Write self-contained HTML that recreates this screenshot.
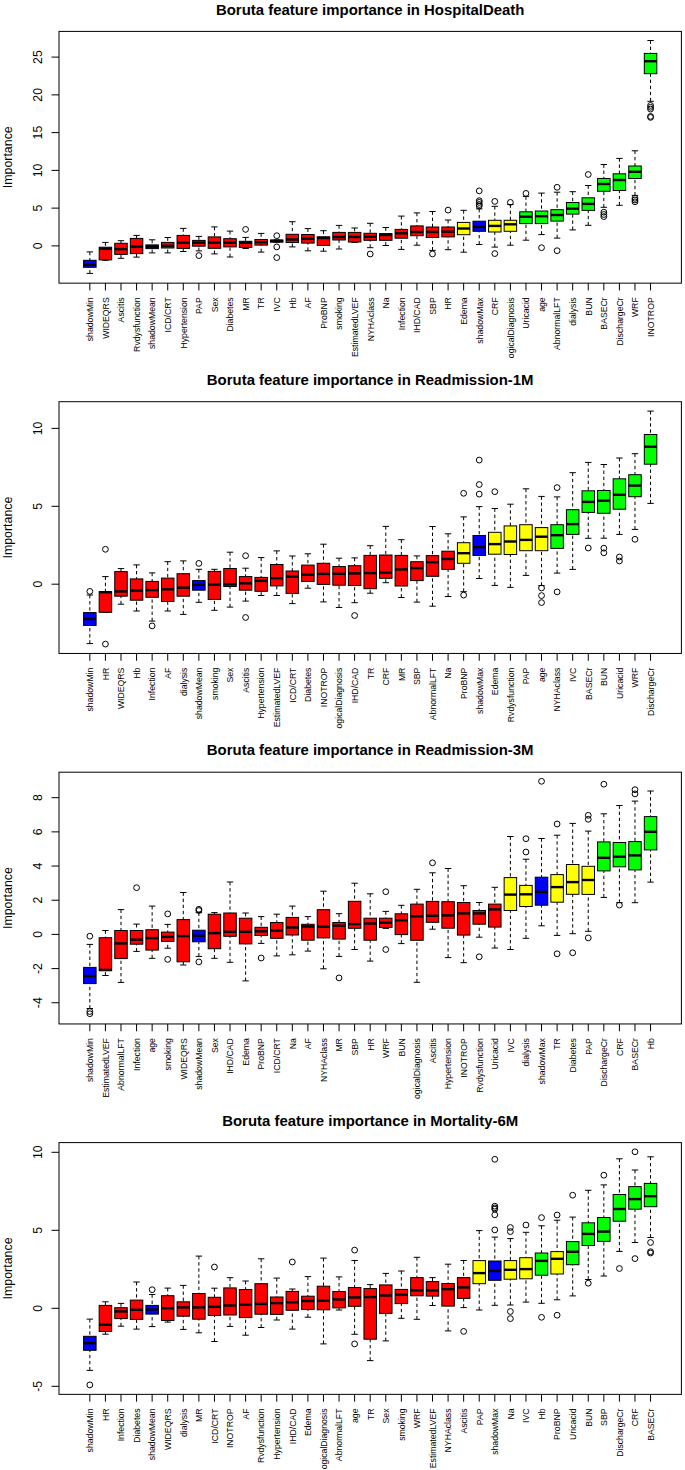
<!DOCTYPE html><html><head><meta charset="utf-8"><style>html,body{margin:0;padding:0;background:#fff;width:685px;height:1470px;overflow:hidden}svg{display:block}text{font-family:"Liberation Sans",sans-serif;fill:#000}</style></head><body>
<svg width="685" height="1470" viewBox="0 0 685 1470">
<rect width="685" height="1470" fill="#fff"/>
<g>
<text x="370.2" y="14.6" text-anchor="middle" font-weight="bold" font-size="14.93">Boruta feature importance in HospitalDeath</text>
<text transform="translate(11.6,157.27) rotate(-90)" text-anchor="middle" font-size="12.4">Importance</text>
<line x1="51.5" x2="59" y1="245.9" y2="245.9" stroke="#000" stroke-width="1"/>
<text transform="translate(41.6,245.9) rotate(-90)" text-anchor="middle" font-size="12.2">0</text>
<line x1="51.5" x2="59" y1="208.14" y2="208.14" stroke="#000" stroke-width="1"/>
<text transform="translate(41.6,208.14) rotate(-90)" text-anchor="middle" font-size="12.2">5</text>
<line x1="51.5" x2="59" y1="170.38" y2="170.38" stroke="#000" stroke-width="1"/>
<text transform="translate(41.6,170.38) rotate(-90)" text-anchor="middle" font-size="12.2">10</text>
<line x1="51.5" x2="59" y1="132.62" y2="132.62" stroke="#000" stroke-width="1"/>
<text transform="translate(41.6,132.62) rotate(-90)" text-anchor="middle" font-size="12.2">15</text>
<line x1="51.5" x2="59" y1="94.86" y2="94.86" stroke="#000" stroke-width="1"/>
<text transform="translate(41.6,94.86) rotate(-90)" text-anchor="middle" font-size="12.2">20</text>
<line x1="51.5" x2="59" y1="57.1" y2="57.1" stroke="#000" stroke-width="1"/>
<text transform="translate(41.6,57.1) rotate(-90)" text-anchor="middle" font-size="12.2">25</text>
<line x1="89.84" x2="89.84" y1="251.9" y2="260.3" stroke="#000" stroke-dasharray="3.4,2.7"/>
<line x1="89.84" x2="89.84" y1="273.4" y2="267.3" stroke="#000" stroke-dasharray="3.4,2.7"/>
<line x1="86.64" x2="93.04" y1="251.9" y2="251.9" stroke="#000"/>
<line x1="86.64" x2="93.04" y1="273.4" y2="273.4" stroke="#000"/>
<rect x="83.59" y="260.3" width="12.5" height="7" fill="#0000ff" stroke="#000" stroke-width="1"/>
<line x1="83.59" x2="96.09" y1="265" y2="265" stroke="#000" stroke-width="2.4"/>
<line x1="89.84" x2="89.84" y1="283.15" y2="290.45" stroke="#000"/>
<text transform="translate(93.14,297.3) rotate(-90)" text-anchor="end" font-size="8.7">shadowMin</text>
<line x1="105.42" x2="105.42" y1="242.4" y2="247.2" stroke="#000" stroke-dasharray="3.4,2.7"/>
<line x1="102.22" x2="108.62" y1="242.4" y2="242.4" stroke="#000"/>
<line x1="102.22" x2="108.62" y1="260.3" y2="260.3" stroke="#000"/>
<rect x="99.17" y="247.2" width="12.5" height="12.7" fill="#ff0000" stroke="#000" stroke-width="1"/>
<line x1="99.17" x2="111.67" y1="248.8" y2="248.8" stroke="#000" stroke-width="2.4"/>
<line x1="105.42" x2="105.42" y1="283.15" y2="290.45" stroke="#000"/>
<text transform="translate(108.72,297.3) rotate(-90)" text-anchor="end" font-size="8.7">WIDEQRS</text>
<line x1="120.99" x2="120.99" y1="240.7" y2="243.3" stroke="#000" stroke-dasharray="3.4,2.7"/>
<line x1="120.99" x2="120.99" y1="258.3" y2="254.4" stroke="#000" stroke-dasharray="3.4,2.7"/>
<line x1="117.79" x2="124.19" y1="240.7" y2="240.7" stroke="#000"/>
<line x1="117.79" x2="124.19" y1="258.3" y2="258.3" stroke="#000"/>
<rect x="114.74" y="243.3" width="12.5" height="11.1" fill="#ff0000" stroke="#000" stroke-width="1"/>
<line x1="114.74" x2="127.24" y1="249.1" y2="249.1" stroke="#000" stroke-width="2.4"/>
<line x1="120.99" x2="120.99" y1="283.15" y2="290.45" stroke="#000"/>
<text transform="translate(124.29,297.3) rotate(-90)" text-anchor="end" font-size="8.7">Ascitis</text>
<line x1="136.57" x2="136.57" y1="235.4" y2="238.4" stroke="#000" stroke-dasharray="3.4,2.7"/>
<line x1="136.57" x2="136.57" y1="257.1" y2="253.6" stroke="#000" stroke-dasharray="3.4,2.7"/>
<line x1="133.37" x2="139.77" y1="235.4" y2="235.4" stroke="#000"/>
<line x1="133.37" x2="139.77" y1="257.1" y2="257.1" stroke="#000"/>
<rect x="130.32" y="238.4" width="12.5" height="15.2" fill="#ff0000" stroke="#000" stroke-width="1"/>
<line x1="130.32" x2="142.82" y1="246.6" y2="246.6" stroke="#000" stroke-width="2.4"/>
<line x1="136.57" x2="136.57" y1="283.15" y2="290.45" stroke="#000"/>
<text transform="translate(139.87,297.3) rotate(-90)" text-anchor="end" font-size="8.7">Rvdysfunction</text>
<line x1="152.14" x2="152.14" y1="239.8" y2="244.9" stroke="#000" stroke-dasharray="3.4,2.7"/>
<line x1="152.14" x2="152.14" y1="252.9" y2="248.6" stroke="#000" stroke-dasharray="3.4,2.7"/>
<line x1="148.94" x2="155.34" y1="239.8" y2="239.8" stroke="#000"/>
<line x1="148.94" x2="155.34" y1="252.9" y2="252.9" stroke="#000"/>
<rect x="145.89" y="244.9" width="12.5" height="3.7" fill="#0000ff" stroke="#000" stroke-width="1"/>
<line x1="145.89" x2="158.39" y1="246.6" y2="246.6" stroke="#000" stroke-width="2.4"/>
<line x1="152.14" x2="152.14" y1="283.15" y2="290.45" stroke="#000"/>
<text transform="translate(155.44,297.3) rotate(-90)" text-anchor="end" font-size="8.7">shadowMean</text>
<line x1="167.72" x2="167.72" y1="237.5" y2="242.4" stroke="#000" stroke-dasharray="3.4,2.7"/>
<line x1="167.72" x2="167.72" y1="252.9" y2="248" stroke="#000" stroke-dasharray="3.4,2.7"/>
<line x1="164.52" x2="170.92" y1="237.5" y2="237.5" stroke="#000"/>
<line x1="164.52" x2="170.92" y1="252.9" y2="252.9" stroke="#000"/>
<rect x="161.47" y="242.4" width="12.5" height="5.6" fill="#ff0000" stroke="#000" stroke-width="1"/>
<line x1="161.47" x2="173.97" y1="245.8" y2="245.8" stroke="#000" stroke-width="2.4"/>
<line x1="167.72" x2="167.72" y1="283.15" y2="290.45" stroke="#000"/>
<text transform="translate(171.02,297.3) rotate(-90)" text-anchor="end" font-size="8.7">ICD/CRT</text>
<line x1="183.29" x2="183.29" y1="228.4" y2="235.4" stroke="#000" stroke-dasharray="3.4,2.7"/>
<line x1="183.29" x2="183.29" y1="251.5" y2="248.4" stroke="#000" stroke-dasharray="3.4,2.7"/>
<line x1="180.09" x2="186.49" y1="228.4" y2="228.4" stroke="#000"/>
<line x1="180.09" x2="186.49" y1="251.5" y2="251.5" stroke="#000"/>
<rect x="177.04" y="235.4" width="12.5" height="13" fill="#ff0000" stroke="#000" stroke-width="1"/>
<line x1="177.04" x2="189.54" y1="242.8" y2="242.8" stroke="#000" stroke-width="2.4"/>
<line x1="183.29" x2="183.29" y1="283.15" y2="290.45" stroke="#000"/>
<text transform="translate(186.59,297.3) rotate(-90)" text-anchor="end" font-size="8.7">Hypertension</text>
<line x1="198.87" x2="198.87" y1="236.4" y2="240.4" stroke="#000" stroke-dasharray="3.4,2.7"/>
<line x1="198.87" x2="198.87" y1="250.9" y2="246.2" stroke="#000" stroke-dasharray="3.4,2.7"/>
<line x1="195.67" x2="202.07" y1="236.4" y2="236.4" stroke="#000"/>
<line x1="195.67" x2="202.07" y1="250.9" y2="250.9" stroke="#000"/>
<rect x="192.62" y="240.4" width="12.5" height="5.8" fill="#ff0000" stroke="#000" stroke-width="1"/>
<line x1="192.62" x2="205.12" y1="242.7" y2="242.7" stroke="#000" stroke-width="2.4"/>
<circle cx="198.87" cy="255.6" r="2.9" fill="none" stroke="#000" stroke-width="1"/>
<line x1="198.87" x2="198.87" y1="283.15" y2="290.45" stroke="#000"/>
<text transform="translate(202.17,297.3) rotate(-90)" text-anchor="end" font-size="8.7">PAP</text>
<line x1="214.44" x2="214.44" y1="226.9" y2="236.9" stroke="#000" stroke-dasharray="3.4,2.7"/>
<line x1="214.44" x2="214.44" y1="253.9" y2="248.3" stroke="#000" stroke-dasharray="3.4,2.7"/>
<line x1="211.24" x2="217.64" y1="226.9" y2="226.9" stroke="#000"/>
<line x1="211.24" x2="217.64" y1="253.9" y2="253.9" stroke="#000"/>
<rect x="208.19" y="236.9" width="12.5" height="11.4" fill="#ff0000" stroke="#000" stroke-width="1"/>
<line x1="208.19" x2="220.69" y1="242.7" y2="242.7" stroke="#000" stroke-width="2.4"/>
<line x1="214.44" x2="214.44" y1="283.15" y2="290.45" stroke="#000"/>
<text transform="translate(217.74,297.3) rotate(-90)" text-anchor="end" font-size="8.7">Sex</text>
<line x1="230.02" x2="230.02" y1="231.1" y2="238.7" stroke="#000" stroke-dasharray="3.4,2.7"/>
<line x1="230.02" x2="230.02" y1="257" y2="246.9" stroke="#000" stroke-dasharray="3.4,2.7"/>
<line x1="226.82" x2="233.22" y1="231.1" y2="231.1" stroke="#000"/>
<line x1="226.82" x2="233.22" y1="257" y2="257" stroke="#000"/>
<rect x="223.77" y="238.7" width="12.5" height="8.2" fill="#ff0000" stroke="#000" stroke-width="1"/>
<line x1="223.77" x2="236.27" y1="242.7" y2="242.7" stroke="#000" stroke-width="2.4"/>
<line x1="230.02" x2="230.02" y1="283.15" y2="290.45" stroke="#000"/>
<text transform="translate(233.32,297.3) rotate(-90)" text-anchor="end" font-size="8.7">Diabetes</text>
<line x1="245.6" x2="245.6" y1="237.4" y2="241.3" stroke="#000" stroke-dasharray="3.4,2.7"/>
<line x1="245.6" x2="245.6" y1="248.5" y2="247.4" stroke="#000" stroke-dasharray="3.4,2.7"/>
<line x1="242.4" x2="248.8" y1="237.4" y2="237.4" stroke="#000"/>
<line x1="242.4" x2="248.8" y1="248.5" y2="248.5" stroke="#000"/>
<rect x="239.35" y="241.3" width="12.5" height="6.1" fill="#ff0000" stroke="#000" stroke-width="1"/>
<line x1="239.35" x2="251.85" y1="242.7" y2="242.7" stroke="#000" stroke-width="2.4"/>
<circle cx="245.6" cy="229.4" r="2.9" fill="none" stroke="#000" stroke-width="1"/>
<line x1="245.6" x2="245.6" y1="283.15" y2="290.45" stroke="#000"/>
<text transform="translate(248.9,297.3) rotate(-90)" text-anchor="end" font-size="8.7">MR</text>
<line x1="261.17" x2="261.17" y1="233.4" y2="239.5" stroke="#000" stroke-dasharray="3.4,2.7"/>
<line x1="261.17" x2="261.17" y1="252.1" y2="245.1" stroke="#000" stroke-dasharray="3.4,2.7"/>
<line x1="257.97" x2="264.37" y1="233.4" y2="233.4" stroke="#000"/>
<line x1="257.97" x2="264.37" y1="252.1" y2="252.1" stroke="#000"/>
<rect x="254.92" y="239.5" width="12.5" height="5.6" fill="#ff0000" stroke="#000" stroke-width="1"/>
<line x1="254.92" x2="267.42" y1="242.2" y2="242.2" stroke="#000" stroke-width="2.4"/>
<line x1="261.17" x2="261.17" y1="283.15" y2="290.45" stroke="#000"/>
<text transform="translate(264.47,297.3) rotate(-90)" text-anchor="end" font-size="8.7">TR</text>
<line x1="273.55" x2="279.95" y1="240" y2="240" stroke="#000"/>
<line x1="273.55" x2="279.95" y1="242.2" y2="242.2" stroke="#000"/>
<rect x="270.5" y="240" width="12.5" height="2.2" fill="#ff0000" stroke="#000" stroke-width="1"/>
<line x1="270.5" x2="283" y1="240.9" y2="240.9" stroke="#000" stroke-width="2.4"/>
<circle cx="276.75" cy="235.7" r="2.9" fill="none" stroke="#000" stroke-width="1"/>
<circle cx="276.75" cy="246.9" r="2.9" fill="none" stroke="#000" stroke-width="1"/>
<circle cx="276.75" cy="257.6" r="2.9" fill="none" stroke="#000" stroke-width="1"/>
<line x1="276.75" x2="276.75" y1="283.15" y2="290.45" stroke="#000"/>
<text transform="translate(280.05,297.3) rotate(-90)" text-anchor="end" font-size="8.7">IVC</text>
<line x1="292.32" x2="292.32" y1="221.7" y2="234.3" stroke="#000" stroke-dasharray="3.4,2.7"/>
<line x1="292.32" x2="292.32" y1="246.9" y2="242.5" stroke="#000" stroke-dasharray="3.4,2.7"/>
<line x1="289.12" x2="295.52" y1="221.7" y2="221.7" stroke="#000"/>
<line x1="289.12" x2="295.52" y1="246.9" y2="246.9" stroke="#000"/>
<rect x="286.07" y="234.3" width="12.5" height="8.2" fill="#ff0000" stroke="#000" stroke-width="1"/>
<line x1="286.07" x2="298.57" y1="239.5" y2="239.5" stroke="#000" stroke-width="2.4"/>
<line x1="292.32" x2="292.32" y1="283.15" y2="290.45" stroke="#000"/>
<text transform="translate(295.62,297.3) rotate(-90)" text-anchor="end" font-size="8.7">Hb</text>
<line x1="307.9" x2="307.9" y1="228.6" y2="234.5" stroke="#000" stroke-dasharray="3.4,2.7"/>
<line x1="307.9" x2="307.9" y1="250.8" y2="243.1" stroke="#000" stroke-dasharray="3.4,2.7"/>
<line x1="304.7" x2="311.1" y1="228.6" y2="228.6" stroke="#000"/>
<line x1="304.7" x2="311.1" y1="250.8" y2="250.8" stroke="#000"/>
<rect x="301.65" y="234.5" width="12.5" height="8.6" fill="#ff0000" stroke="#000" stroke-width="1"/>
<line x1="301.65" x2="314.15" y1="238.9" y2="238.9" stroke="#000" stroke-width="2.4"/>
<line x1="307.9" x2="307.9" y1="283.15" y2="290.45" stroke="#000"/>
<text transform="translate(311.2,297.3) rotate(-90)" text-anchor="end" font-size="8.7">AF</text>
<line x1="323.47" x2="323.47" y1="230.7" y2="236.8" stroke="#000" stroke-dasharray="3.4,2.7"/>
<line x1="323.47" x2="323.47" y1="251.2" y2="245.5" stroke="#000" stroke-dasharray="3.4,2.7"/>
<line x1="320.27" x2="326.67" y1="230.7" y2="230.7" stroke="#000"/>
<line x1="320.27" x2="326.67" y1="251.2" y2="251.2" stroke="#000"/>
<rect x="317.22" y="236.8" width="12.5" height="8.7" fill="#ff0000" stroke="#000" stroke-width="1"/>
<line x1="317.22" x2="329.72" y1="238" y2="238" stroke="#000" stroke-width="2.4"/>
<line x1="323.47" x2="323.47" y1="283.15" y2="290.45" stroke="#000"/>
<text transform="translate(326.77,297.3) rotate(-90)" text-anchor="end" font-size="8.7">ProBNP</text>
<line x1="339.05" x2="339.05" y1="225.4" y2="232.4" stroke="#000" stroke-dasharray="3.4,2.7"/>
<line x1="339.05" x2="339.05" y1="249" y2="240" stroke="#000" stroke-dasharray="3.4,2.7"/>
<line x1="335.85" x2="342.25" y1="225.4" y2="225.4" stroke="#000"/>
<line x1="335.85" x2="342.25" y1="249" y2="249" stroke="#000"/>
<rect x="332.8" y="232.4" width="12.5" height="7.6" fill="#ff0000" stroke="#000" stroke-width="1"/>
<line x1="332.8" x2="345.3" y1="237.1" y2="237.1" stroke="#000" stroke-width="2.4"/>
<line x1="339.05" x2="339.05" y1="283.15" y2="290.45" stroke="#000"/>
<text transform="translate(342.35,297.3) rotate(-90)" text-anchor="end" font-size="8.7">smoking</text>
<line x1="354.62" x2="354.62" y1="228" y2="232.4" stroke="#000" stroke-dasharray="3.4,2.7"/>
<line x1="351.42" x2="357.82" y1="228" y2="228" stroke="#000"/>
<line x1="351.42" x2="357.82" y1="242.5" y2="242.5" stroke="#000"/>
<rect x="348.37" y="232.4" width="12.5" height="9.6" fill="#ff0000" stroke="#000" stroke-width="1"/>
<line x1="348.37" x2="360.87" y1="237" y2="237" stroke="#000" stroke-width="2.4"/>
<line x1="354.62" x2="354.62" y1="283.15" y2="290.45" stroke="#000"/>
<text transform="translate(357.92,297.3) rotate(-90)" text-anchor="end" font-size="8.7">EstimatedLVEF</text>
<line x1="370.2" x2="370.2" y1="223.3" y2="233.3" stroke="#000" stroke-dasharray="3.4,2.7"/>
<line x1="370.2" x2="370.2" y1="247.7" y2="240.3" stroke="#000" stroke-dasharray="3.4,2.7"/>
<line x1="367" x2="373.4" y1="223.3" y2="223.3" stroke="#000"/>
<line x1="367" x2="373.4" y1="247.7" y2="247.7" stroke="#000"/>
<rect x="363.95" y="233.3" width="12.5" height="7" fill="#ff0000" stroke="#000" stroke-width="1"/>
<line x1="363.95" x2="376.45" y1="236.8" y2="236.8" stroke="#000" stroke-width="2.4"/>
<circle cx="370.2" cy="254" r="2.9" fill="none" stroke="#000" stroke-width="1"/>
<line x1="370.2" x2="370.2" y1="283.15" y2="290.45" stroke="#000"/>
<text transform="translate(373.5,297.3) rotate(-90)" text-anchor="end" font-size="8.7">NYHAclass</text>
<line x1="385.78" x2="385.78" y1="227.5" y2="233.6" stroke="#000" stroke-dasharray="3.4,2.7"/>
<line x1="385.78" x2="385.78" y1="245.5" y2="240.3" stroke="#000" stroke-dasharray="3.4,2.7"/>
<line x1="382.58" x2="388.98" y1="227.5" y2="227.5" stroke="#000"/>
<line x1="382.58" x2="388.98" y1="245.5" y2="245.5" stroke="#000"/>
<rect x="379.53" y="233.6" width="12.5" height="6.7" fill="#ff0000" stroke="#000" stroke-width="1"/>
<line x1="379.53" x2="392.03" y1="235" y2="235" stroke="#000" stroke-width="2.4"/>
<line x1="385.78" x2="385.78" y1="283.15" y2="290.45" stroke="#000"/>
<text transform="translate(389.08,297.3) rotate(-90)" text-anchor="end" font-size="8.7">Na</text>
<line x1="401.35" x2="401.35" y1="216.1" y2="229.4" stroke="#000" stroke-dasharray="3.4,2.7"/>
<line x1="401.35" x2="401.35" y1="249.4" y2="238.2" stroke="#000" stroke-dasharray="3.4,2.7"/>
<line x1="398.15" x2="404.55" y1="216.1" y2="216.1" stroke="#000"/>
<line x1="398.15" x2="404.55" y1="249.4" y2="249.4" stroke="#000"/>
<rect x="395.1" y="229.4" width="12.5" height="8.8" fill="#ff0000" stroke="#000" stroke-width="1"/>
<line x1="395.1" x2="407.6" y1="233.3" y2="233.3" stroke="#000" stroke-width="2.4"/>
<line x1="401.35" x2="401.35" y1="283.15" y2="290.45" stroke="#000"/>
<text transform="translate(404.65,297.3) rotate(-90)" text-anchor="end" font-size="8.7">Infection</text>
<line x1="416.93" x2="416.93" y1="212.9" y2="225.9" stroke="#000" stroke-dasharray="3.4,2.7"/>
<line x1="416.93" x2="416.93" y1="245.2" y2="235.7" stroke="#000" stroke-dasharray="3.4,2.7"/>
<line x1="413.73" x2="420.13" y1="212.9" y2="212.9" stroke="#000"/>
<line x1="413.73" x2="420.13" y1="245.2" y2="245.2" stroke="#000"/>
<rect x="410.68" y="225.9" width="12.5" height="9.8" fill="#ff0000" stroke="#000" stroke-width="1"/>
<line x1="410.68" x2="423.18" y1="232" y2="232" stroke="#000" stroke-width="2.4"/>
<line x1="416.93" x2="416.93" y1="283.15" y2="290.45" stroke="#000"/>
<text transform="translate(420.23,297.3) rotate(-90)" text-anchor="end" font-size="8.7">IHD/CAD</text>
<line x1="432.5" x2="432.5" y1="211.5" y2="227" stroke="#000" stroke-dasharray="3.4,2.7"/>
<line x1="432.5" x2="432.5" y1="250.4" y2="237.5" stroke="#000" stroke-dasharray="3.4,2.7"/>
<line x1="429.3" x2="435.7" y1="211.5" y2="211.5" stroke="#000"/>
<line x1="429.3" x2="435.7" y1="250.4" y2="250.4" stroke="#000"/>
<rect x="426.25" y="227" width="12.5" height="10.5" fill="#ff0000" stroke="#000" stroke-width="1"/>
<line x1="426.25" x2="438.75" y1="232" y2="232" stroke="#000" stroke-width="2.4"/>
<circle cx="432.5" cy="253.9" r="2.9" fill="none" stroke="#000" stroke-width="1"/>
<line x1="432.5" x2="432.5" y1="283.15" y2="290.45" stroke="#000"/>
<text transform="translate(435.8,297.3) rotate(-90)" text-anchor="end" font-size="8.7">SBP</text>
<line x1="448.08" x2="448.08" y1="220" y2="227" stroke="#000" stroke-dasharray="3.4,2.7"/>
<line x1="448.08" x2="448.08" y1="249.7" y2="236.9" stroke="#000" stroke-dasharray="3.4,2.7"/>
<line x1="444.88" x2="451.28" y1="220" y2="220" stroke="#000"/>
<line x1="444.88" x2="451.28" y1="249.7" y2="249.7" stroke="#000"/>
<rect x="441.83" y="227" width="12.5" height="9.9" fill="#ff0000" stroke="#000" stroke-width="1"/>
<line x1="441.83" x2="454.33" y1="231.7" y2="231.7" stroke="#000" stroke-width="2.4"/>
<circle cx="448.08" cy="210.1" r="2.9" fill="none" stroke="#000" stroke-width="1"/>
<line x1="448.08" x2="448.08" y1="283.15" y2="290.45" stroke="#000"/>
<text transform="translate(451.38,297.3) rotate(-90)" text-anchor="end" font-size="8.7">HR</text>
<line x1="463.65" x2="463.65" y1="210.3" y2="222.4" stroke="#000" stroke-dasharray="3.4,2.7"/>
<line x1="463.65" x2="463.65" y1="252.2" y2="234.7" stroke="#000" stroke-dasharray="3.4,2.7"/>
<line x1="460.45" x2="466.85" y1="210.3" y2="210.3" stroke="#000"/>
<line x1="460.45" x2="466.85" y1="252.2" y2="252.2" stroke="#000"/>
<rect x="457.4" y="222.4" width="12.5" height="12.3" fill="#ffff00" stroke="#000" stroke-width="1"/>
<line x1="457.4" x2="469.9" y1="228.5" y2="228.5" stroke="#000" stroke-width="2.4"/>
<line x1="463.65" x2="463.65" y1="283.15" y2="290.45" stroke="#000"/>
<text transform="translate(466.95,297.3) rotate(-90)" text-anchor="end" font-size="8.7">Edema</text>
<line x1="479.23" x2="479.23" y1="208.9" y2="221.2" stroke="#000" stroke-dasharray="3.4,2.7"/>
<line x1="479.23" x2="479.23" y1="244.5" y2="231.3" stroke="#000" stroke-dasharray="3.4,2.7"/>
<line x1="476.03" x2="482.43" y1="208.9" y2="208.9" stroke="#000"/>
<line x1="476.03" x2="482.43" y1="244.5" y2="244.5" stroke="#000"/>
<rect x="472.98" y="221.2" width="12.5" height="10.1" fill="#0000ff" stroke="#000" stroke-width="1"/>
<line x1="472.98" x2="485.48" y1="227" y2="227" stroke="#000" stroke-width="2.4"/>
<circle cx="479.23" cy="190.9" r="2.9" fill="none" stroke="#000" stroke-width="1"/>
<circle cx="479.23" cy="200.7" r="2.9" fill="none" stroke="#000" stroke-width="1"/>
<circle cx="479.23" cy="202.4" r="2.9" fill="none" stroke="#000" stroke-width="1"/>
<circle cx="479.23" cy="204.5" r="2.9" fill="none" stroke="#000" stroke-width="1"/>
<circle cx="479.23" cy="206" r="2.9" fill="none" stroke="#000" stroke-width="1"/>
<line x1="479.23" x2="479.23" y1="283.15" y2="290.45" stroke="#000"/>
<text transform="translate(482.53,297.3) rotate(-90)" text-anchor="end" font-size="8.7">shadowMax</text>
<line x1="494.8" x2="494.8" y1="206.3" y2="220.3" stroke="#000" stroke-dasharray="3.4,2.7"/>
<line x1="494.8" x2="494.8" y1="247.1" y2="232" stroke="#000" stroke-dasharray="3.4,2.7"/>
<line x1="491.6" x2="498" y1="206.3" y2="206.3" stroke="#000"/>
<line x1="491.6" x2="498" y1="247.1" y2="247.1" stroke="#000"/>
<rect x="488.55" y="220.3" width="12.5" height="11.7" fill="#ffff00" stroke="#000" stroke-width="1"/>
<line x1="488.55" x2="501.05" y1="225.9" y2="225.9" stroke="#000" stroke-width="2.4"/>
<circle cx="494.8" cy="201.4" r="2.9" fill="none" stroke="#000" stroke-width="1"/>
<circle cx="494.8" cy="253.6" r="2.9" fill="none" stroke="#000" stroke-width="1"/>
<line x1="494.8" x2="494.8" y1="283.15" y2="290.45" stroke="#000"/>
<text transform="translate(498.1,297.3) rotate(-90)" text-anchor="end" font-size="8.7">CRF</text>
<line x1="510.38" x2="510.38" y1="204.5" y2="220.3" stroke="#000" stroke-dasharray="3.4,2.7"/>
<line x1="510.38" x2="510.38" y1="245.2" y2="231.3" stroke="#000" stroke-dasharray="3.4,2.7"/>
<line x1="507.18" x2="513.58" y1="204.5" y2="204.5" stroke="#000"/>
<line x1="507.18" x2="513.58" y1="245.2" y2="245.2" stroke="#000"/>
<rect x="504.13" y="220.3" width="12.5" height="11" fill="#ffff00" stroke="#000" stroke-width="1"/>
<line x1="504.13" x2="516.63" y1="224.3" y2="224.3" stroke="#000" stroke-width="2.4"/>
<circle cx="510.38" cy="202.4" r="2.9" fill="none" stroke="#000" stroke-width="1"/>
<line x1="510.38" x2="510.38" y1="283.15" y2="290.45" stroke="#000"/>
<text transform="translate(513.68,297.3) rotate(-90)" text-anchor="end" font-size="8.7">ogicalDiagnosis</text>
<line x1="525.96" x2="525.96" y1="196.4" y2="211.8" stroke="#000" stroke-dasharray="3.4,2.7"/>
<line x1="525.96" x2="525.96" y1="240.2" y2="223.6" stroke="#000" stroke-dasharray="3.4,2.7"/>
<line x1="522.76" x2="529.16" y1="196.4" y2="196.4" stroke="#000"/>
<line x1="522.76" x2="529.16" y1="240.2" y2="240.2" stroke="#000"/>
<rect x="519.71" y="211.8" width="12.5" height="11.8" fill="#00ff00" stroke="#000" stroke-width="1"/>
<line x1="519.71" x2="532.21" y1="216.7" y2="216.7" stroke="#000" stroke-width="2.4"/>
<circle cx="525.96" cy="193.4" r="2.9" fill="none" stroke="#000" stroke-width="1"/>
<line x1="525.96" x2="525.96" y1="283.15" y2="290.45" stroke="#000"/>
<text transform="translate(529.26,297.3) rotate(-90)" text-anchor="end" font-size="8.7">Uricacid</text>
<line x1="541.53" x2="541.53" y1="193.1" y2="211" stroke="#000" stroke-dasharray="3.4,2.7"/>
<line x1="541.53" x2="541.53" y1="234.6" y2="223.6" stroke="#000" stroke-dasharray="3.4,2.7"/>
<line x1="538.33" x2="544.73" y1="193.1" y2="193.1" stroke="#000"/>
<line x1="538.33" x2="544.73" y1="234.6" y2="234.6" stroke="#000"/>
<rect x="535.28" y="211" width="12.5" height="12.6" fill="#00ff00" stroke="#000" stroke-width="1"/>
<line x1="535.28" x2="547.78" y1="216.2" y2="216.2" stroke="#000" stroke-width="2.4"/>
<circle cx="541.53" cy="247.7" r="2.9" fill="none" stroke="#000" stroke-width="1"/>
<line x1="541.53" x2="541.53" y1="283.15" y2="290.45" stroke="#000"/>
<text transform="translate(544.83,297.3) rotate(-90)" text-anchor="end" font-size="8.7">age</text>
<line x1="557.11" x2="557.11" y1="192.2" y2="209.7" stroke="#000" stroke-dasharray="3.4,2.7"/>
<line x1="557.11" x2="557.11" y1="238.1" y2="221.1" stroke="#000" stroke-dasharray="3.4,2.7"/>
<line x1="553.91" x2="560.31" y1="192.2" y2="192.2" stroke="#000"/>
<line x1="553.91" x2="560.31" y1="238.1" y2="238.1" stroke="#000"/>
<rect x="550.86" y="209.7" width="12.5" height="11.4" fill="#00ff00" stroke="#000" stroke-width="1"/>
<line x1="550.86" x2="563.36" y1="215" y2="215" stroke="#000" stroke-width="2.4"/>
<circle cx="557.11" cy="187.3" r="2.9" fill="none" stroke="#000" stroke-width="1"/>
<circle cx="557.11" cy="250.7" r="2.9" fill="none" stroke="#000" stroke-width="1"/>
<line x1="557.11" x2="557.11" y1="283.15" y2="290.45" stroke="#000"/>
<text transform="translate(560.41,297.3) rotate(-90)" text-anchor="end" font-size="8.7">AbnormalLFT</text>
<line x1="572.68" x2="572.68" y1="191.7" y2="202.5" stroke="#000" stroke-dasharray="3.4,2.7"/>
<line x1="572.68" x2="572.68" y1="229.9" y2="214.1" stroke="#000" stroke-dasharray="3.4,2.7"/>
<line x1="569.48" x2="575.88" y1="191.7" y2="191.7" stroke="#000"/>
<line x1="569.48" x2="575.88" y1="229.9" y2="229.9" stroke="#000"/>
<rect x="566.43" y="202.5" width="12.5" height="11.6" fill="#00ff00" stroke="#000" stroke-width="1"/>
<line x1="566.43" x2="578.93" y1="208.7" y2="208.7" stroke="#000" stroke-width="2.4"/>
<line x1="572.68" x2="572.68" y1="283.15" y2="290.45" stroke="#000"/>
<text transform="translate(575.98,297.3) rotate(-90)" text-anchor="end" font-size="8.7">dialysis</text>
<line x1="588.26" x2="588.26" y1="185.5" y2="197.8" stroke="#000" stroke-dasharray="3.4,2.7"/>
<line x1="588.26" x2="588.26" y1="225.3" y2="210.4" stroke="#000" stroke-dasharray="3.4,2.7"/>
<line x1="585.06" x2="591.46" y1="185.5" y2="185.5" stroke="#000"/>
<line x1="585.06" x2="591.46" y1="225.3" y2="225.3" stroke="#000"/>
<rect x="582.01" y="197.8" width="12.5" height="12.6" fill="#00ff00" stroke="#000" stroke-width="1"/>
<line x1="582.01" x2="594.51" y1="203.9" y2="203.9" stroke="#000" stroke-width="2.4"/>
<circle cx="588.26" cy="174.5" r="2.9" fill="none" stroke="#000" stroke-width="1"/>
<line x1="588.26" x2="588.26" y1="283.15" y2="290.45" stroke="#000"/>
<text transform="translate(591.56,297.3) rotate(-90)" text-anchor="end" font-size="8.7">BUN</text>
<line x1="603.83" x2="603.83" y1="164.5" y2="178.5" stroke="#000" stroke-dasharray="3.4,2.7"/>
<line x1="603.83" x2="603.83" y1="207.3" y2="191.3" stroke="#000" stroke-dasharray="3.4,2.7"/>
<line x1="600.63" x2="607.03" y1="164.5" y2="164.5" stroke="#000"/>
<line x1="600.63" x2="607.03" y1="207.3" y2="207.3" stroke="#000"/>
<rect x="597.58" y="178.5" width="12.5" height="12.8" fill="#00ff00" stroke="#000" stroke-width="1"/>
<line x1="597.58" x2="610.08" y1="184" y2="184" stroke="#000" stroke-width="2.4"/>
<circle cx="603.83" cy="212.2" r="2.9" fill="none" stroke="#000" stroke-width="1"/>
<circle cx="603.83" cy="214.5" r="2.9" fill="none" stroke="#000" stroke-width="1"/>
<circle cx="603.83" cy="216.6" r="2.9" fill="none" stroke="#000" stroke-width="1"/>
<line x1="603.83" x2="603.83" y1="283.15" y2="290.45" stroke="#000"/>
<text transform="translate(607.13,297.3) rotate(-90)" text-anchor="end" font-size="8.7">BASECr</text>
<line x1="619.41" x2="619.41" y1="158.4" y2="173.8" stroke="#000" stroke-dasharray="3.4,2.7"/>
<line x1="619.41" x2="619.41" y1="205.3" y2="190.5" stroke="#000" stroke-dasharray="3.4,2.7"/>
<line x1="616.21" x2="622.61" y1="158.4" y2="158.4" stroke="#000"/>
<line x1="616.21" x2="622.61" y1="205.3" y2="205.3" stroke="#000"/>
<rect x="613.16" y="173.8" width="12.5" height="16.7" fill="#00ff00" stroke="#000" stroke-width="1"/>
<line x1="613.16" x2="625.66" y1="180" y2="180" stroke="#000" stroke-width="2.4"/>
<line x1="619.41" x2="619.41" y1="283.15" y2="290.45" stroke="#000"/>
<text transform="translate(622.71,297.3) rotate(-90)" text-anchor="end" font-size="8.7">DischargeCr</text>
<line x1="634.98" x2="634.98" y1="150.8" y2="166" stroke="#000" stroke-dasharray="3.4,2.7"/>
<line x1="634.98" x2="634.98" y1="195.4" y2="178.5" stroke="#000" stroke-dasharray="3.4,2.7"/>
<line x1="631.78" x2="638.18" y1="150.8" y2="150.8" stroke="#000"/>
<line x1="631.78" x2="638.18" y1="195.4" y2="195.4" stroke="#000"/>
<rect x="628.73" y="166" width="12.5" height="12.5" fill="#00ff00" stroke="#000" stroke-width="1"/>
<line x1="628.73" x2="641.23" y1="171.8" y2="171.8" stroke="#000" stroke-width="2.4"/>
<circle cx="634.98" cy="198.3" r="2.9" fill="none" stroke="#000" stroke-width="1"/>
<circle cx="634.98" cy="200" r="2.9" fill="none" stroke="#000" stroke-width="1"/>
<circle cx="634.98" cy="201.8" r="2.9" fill="none" stroke="#000" stroke-width="1"/>
<line x1="634.98" x2="634.98" y1="283.15" y2="290.45" stroke="#000"/>
<text transform="translate(638.28,297.3) rotate(-90)" text-anchor="end" font-size="8.7">WRF</text>
<line x1="650.56" x2="650.56" y1="40.5" y2="53.4" stroke="#000" stroke-dasharray="3.4,2.7"/>
<line x1="650.56" x2="650.56" y1="101.3" y2="73.7" stroke="#000" stroke-dasharray="3.4,2.7"/>
<line x1="647.36" x2="653.76" y1="40.5" y2="40.5" stroke="#000"/>
<line x1="647.36" x2="653.76" y1="101.3" y2="101.3" stroke="#000"/>
<rect x="644.31" y="53.4" width="12.5" height="20.3" fill="#00ff00" stroke="#000" stroke-width="1"/>
<line x1="644.31" x2="656.81" y1="61.2" y2="61.2" stroke="#000" stroke-width="2.4"/>
<circle cx="650.56" cy="105.4" r="2.9" fill="none" stroke="#000" stroke-width="1"/>
<circle cx="650.56" cy="107.3" r="2.9" fill="none" stroke="#000" stroke-width="1"/>
<circle cx="650.56" cy="109.1" r="2.9" fill="none" stroke="#000" stroke-width="1"/>
<circle cx="650.56" cy="116.4" r="2.9" fill="none" stroke="#000" stroke-width="1"/>
<circle cx="650.56" cy="117.4" r="2.9" fill="none" stroke="#000" stroke-width="1"/>
<line x1="650.56" x2="650.56" y1="283.15" y2="290.45" stroke="#000"/>
<text transform="translate(653.86,297.3) rotate(-90)" text-anchor="end" font-size="8.7">INOTROP</text>
<rect x="59" y="31.4" width="622.4" height="251.75" fill="none" stroke="#000" stroke-width="1"/>
</g>
<g>
<text x="370.2" y="384.9" text-anchor="middle" font-weight="bold" font-size="14.93">Boruta feature importance in Readmission-1M</text>
<text transform="translate(11.6,527.58) rotate(-90)" text-anchor="middle" font-size="12.4">Importance</text>
<line x1="51.5" x2="59" y1="584.2" y2="584.2" stroke="#000" stroke-width="1"/>
<text transform="translate(41.6,584.2) rotate(-90)" text-anchor="middle" font-size="12.2">0</text>
<line x1="51.5" x2="59" y1="506.3" y2="506.3" stroke="#000" stroke-width="1"/>
<text transform="translate(41.6,506.3) rotate(-90)" text-anchor="middle" font-size="12.2">5</text>
<line x1="51.5" x2="59" y1="428.4" y2="428.4" stroke="#000" stroke-width="1"/>
<text transform="translate(41.6,428.4) rotate(-90)" text-anchor="middle" font-size="12.2">10</text>
<line x1="89.84" x2="89.84" y1="595" y2="612.6" stroke="#000" stroke-dasharray="3.4,2.7"/>
<line x1="89.84" x2="89.84" y1="643.6" y2="625.4" stroke="#000" stroke-dasharray="3.4,2.7"/>
<line x1="86.64" x2="93.04" y1="595" y2="595" stroke="#000"/>
<line x1="86.64" x2="93.04" y1="643.6" y2="643.6" stroke="#000"/>
<rect x="83.59" y="612.6" width="12.5" height="12.8" fill="#0000ff" stroke="#000" stroke-width="1"/>
<line x1="83.59" x2="96.09" y1="619" y2="619" stroke="#000" stroke-width="2.4"/>
<circle cx="89.84" cy="591.4" r="2.9" fill="none" stroke="#000" stroke-width="1"/>
<line x1="89.84" x2="89.84" y1="653.45" y2="660.75" stroke="#000"/>
<text transform="translate(93.14,667.6) rotate(-90)" text-anchor="end" font-size="8.7">shadowMin</text>
<line x1="105.42" x2="105.42" y1="576.6" y2="591.7" stroke="#000" stroke-dasharray="3.4,2.7"/>
<line x1="102.22" x2="108.62" y1="576.6" y2="576.6" stroke="#000"/>
<line x1="102.22" x2="108.62" y1="612.3" y2="612.3" stroke="#000"/>
<rect x="99.17" y="591.7" width="12.5" height="20.6" fill="#ff0000" stroke="#000" stroke-width="1"/>
<line x1="99.17" x2="111.67" y1="592.2" y2="592.2" stroke="#000" stroke-width="2.4"/>
<circle cx="105.42" cy="549.3" r="2.9" fill="none" stroke="#000" stroke-width="1"/>
<circle cx="105.42" cy="644.1" r="2.9" fill="none" stroke="#000" stroke-width="1"/>
<line x1="105.42" x2="105.42" y1="653.45" y2="660.75" stroke="#000"/>
<text transform="translate(108.72,667.6) rotate(-90)" text-anchor="end" font-size="8.7">HR</text>
<line x1="120.99" x2="120.99" y1="568.6" y2="571.6" stroke="#000" stroke-dasharray="3.4,2.7"/>
<line x1="120.99" x2="120.99" y1="604.2" y2="596.2" stroke="#000" stroke-dasharray="3.4,2.7"/>
<line x1="117.79" x2="124.19" y1="568.6" y2="568.6" stroke="#000"/>
<line x1="117.79" x2="124.19" y1="604.2" y2="604.2" stroke="#000"/>
<rect x="114.74" y="571.6" width="12.5" height="24.6" fill="#ff0000" stroke="#000" stroke-width="1"/>
<line x1="114.74" x2="127.24" y1="591.4" y2="591.4" stroke="#000" stroke-width="2.4"/>
<line x1="120.99" x2="120.99" y1="653.45" y2="660.75" stroke="#000"/>
<text transform="translate(124.29,667.6) rotate(-90)" text-anchor="end" font-size="8.7">WIDEQRS</text>
<line x1="136.57" x2="136.57" y1="564.9" y2="578.9" stroke="#000" stroke-dasharray="3.4,2.7"/>
<line x1="136.57" x2="136.57" y1="611" y2="600.2" stroke="#000" stroke-dasharray="3.4,2.7"/>
<line x1="133.37" x2="139.77" y1="564.9" y2="564.9" stroke="#000"/>
<line x1="133.37" x2="139.77" y1="611" y2="611" stroke="#000"/>
<rect x="130.32" y="578.9" width="12.5" height="21.3" fill="#ff0000" stroke="#000" stroke-width="1"/>
<line x1="130.32" x2="142.82" y1="590.6" y2="590.6" stroke="#000" stroke-width="2.4"/>
<line x1="136.57" x2="136.57" y1="653.45" y2="660.75" stroke="#000"/>
<text transform="translate(139.87,667.6) rotate(-90)" text-anchor="end" font-size="8.7">Hb</text>
<line x1="152.14" x2="152.14" y1="572.9" y2="581.4" stroke="#000" stroke-dasharray="3.4,2.7"/>
<line x1="152.14" x2="152.14" y1="621.1" y2="597.3" stroke="#000" stroke-dasharray="3.4,2.7"/>
<line x1="148.94" x2="155.34" y1="572.9" y2="572.9" stroke="#000"/>
<line x1="148.94" x2="155.34" y1="621.1" y2="621.1" stroke="#000"/>
<rect x="145.89" y="581.4" width="12.5" height="15.9" fill="#ff0000" stroke="#000" stroke-width="1"/>
<line x1="145.89" x2="158.39" y1="590.1" y2="590.1" stroke="#000" stroke-width="2.4"/>
<circle cx="152.14" cy="625.9" r="2.9" fill="none" stroke="#000" stroke-width="1"/>
<line x1="152.14" x2="152.14" y1="653.45" y2="660.75" stroke="#000"/>
<text transform="translate(155.44,667.6) rotate(-90)" text-anchor="end" font-size="8.7">Infection</text>
<line x1="167.72" x2="167.72" y1="561.7" y2="578.1" stroke="#000" stroke-dasharray="3.4,2.7"/>
<line x1="167.72" x2="167.72" y1="611" y2="601.5" stroke="#000" stroke-dasharray="3.4,2.7"/>
<line x1="164.52" x2="170.92" y1="561.7" y2="561.7" stroke="#000"/>
<line x1="164.52" x2="170.92" y1="611" y2="611" stroke="#000"/>
<rect x="161.47" y="578.1" width="12.5" height="23.4" fill="#ff0000" stroke="#000" stroke-width="1"/>
<line x1="161.47" x2="173.97" y1="589.3" y2="589.3" stroke="#000" stroke-width="2.4"/>
<line x1="167.72" x2="167.72" y1="653.45" y2="660.75" stroke="#000"/>
<text transform="translate(171.02,667.6) rotate(-90)" text-anchor="end" font-size="8.7">AF</text>
<line x1="183.29" x2="183.29" y1="560.9" y2="573.7" stroke="#000" stroke-dasharray="3.4,2.7"/>
<line x1="183.29" x2="183.29" y1="614.4" y2="596.2" stroke="#000" stroke-dasharray="3.4,2.7"/>
<line x1="180.09" x2="186.49" y1="560.9" y2="560.9" stroke="#000"/>
<line x1="180.09" x2="186.49" y1="614.4" y2="614.4" stroke="#000"/>
<rect x="177.04" y="573.7" width="12.5" height="22.5" fill="#ff0000" stroke="#000" stroke-width="1"/>
<line x1="177.04" x2="189.54" y1="587.7" y2="587.7" stroke="#000" stroke-width="2.4"/>
<line x1="183.29" x2="183.29" y1="653.45" y2="660.75" stroke="#000"/>
<text transform="translate(186.59,667.6) rotate(-90)" text-anchor="end" font-size="8.7">dialysis</text>
<line x1="198.87" x2="198.87" y1="569.3" y2="580.6" stroke="#000" stroke-dasharray="3.4,2.7"/>
<line x1="198.87" x2="198.87" y1="602.3" y2="590.2" stroke="#000" stroke-dasharray="3.4,2.7"/>
<line x1="195.67" x2="202.07" y1="569.3" y2="569.3" stroke="#000"/>
<line x1="195.67" x2="202.07" y1="602.3" y2="602.3" stroke="#000"/>
<rect x="192.62" y="580.6" width="12.5" height="9.6" fill="#0000ff" stroke="#000" stroke-width="1"/>
<line x1="192.62" x2="205.12" y1="584.9" y2="584.9" stroke="#000" stroke-width="2.4"/>
<circle cx="198.87" cy="563.4" r="2.9" fill="none" stroke="#000" stroke-width="1"/>
<line x1="198.87" x2="198.87" y1="653.45" y2="660.75" stroke="#000"/>
<text transform="translate(202.17,667.6) rotate(-90)" text-anchor="end" font-size="8.7">shadowMean</text>
<line x1="214.44" x2="214.44" y1="569.3" y2="571.4" stroke="#000" stroke-dasharray="3.4,2.7"/>
<line x1="214.44" x2="214.44" y1="610.3" y2="599.4" stroke="#000" stroke-dasharray="3.4,2.7"/>
<line x1="211.24" x2="217.64" y1="569.3" y2="569.3" stroke="#000"/>
<line x1="211.24" x2="217.64" y1="610.3" y2="610.3" stroke="#000"/>
<rect x="208.19" y="571.4" width="12.5" height="28" fill="#ff0000" stroke="#000" stroke-width="1"/>
<line x1="208.19" x2="220.69" y1="584.6" y2="584.6" stroke="#000" stroke-width="2.4"/>
<line x1="214.44" x2="214.44" y1="653.45" y2="660.75" stroke="#000"/>
<text transform="translate(217.74,667.6) rotate(-90)" text-anchor="end" font-size="8.7">smoking</text>
<line x1="230.02" x2="230.02" y1="552.2" y2="568.5" stroke="#000" stroke-dasharray="3.4,2.7"/>
<line x1="230.02" x2="230.02" y1="607.1" y2="586.5" stroke="#000" stroke-dasharray="3.4,2.7"/>
<line x1="226.82" x2="233.22" y1="552.2" y2="552.2" stroke="#000"/>
<line x1="226.82" x2="233.22" y1="607.1" y2="607.1" stroke="#000"/>
<rect x="223.77" y="568.5" width="12.5" height="18" fill="#ff0000" stroke="#000" stroke-width="1"/>
<line x1="223.77" x2="236.27" y1="584.3" y2="584.3" stroke="#000" stroke-width="2.4"/>
<line x1="230.02" x2="230.02" y1="653.45" y2="660.75" stroke="#000"/>
<text transform="translate(233.32,667.6) rotate(-90)" text-anchor="end" font-size="8.7">Sex</text>
<line x1="245.6" x2="245.6" y1="568.2" y2="576.6" stroke="#000" stroke-dasharray="3.4,2.7"/>
<line x1="245.6" x2="245.6" y1="601.1" y2="590.2" stroke="#000" stroke-dasharray="3.4,2.7"/>
<line x1="242.4" x2="248.8" y1="568.2" y2="568.2" stroke="#000"/>
<line x1="242.4" x2="248.8" y1="601.1" y2="601.1" stroke="#000"/>
<rect x="239.35" y="576.6" width="12.5" height="13.6" fill="#ff0000" stroke="#000" stroke-width="1"/>
<line x1="239.35" x2="251.85" y1="583.3" y2="583.3" stroke="#000" stroke-width="2.4"/>
<circle cx="245.6" cy="555.7" r="2.9" fill="none" stroke="#000" stroke-width="1"/>
<circle cx="245.6" cy="617.5" r="2.9" fill="none" stroke="#000" stroke-width="1"/>
<line x1="245.6" x2="245.6" y1="653.45" y2="660.75" stroke="#000"/>
<text transform="translate(248.9,667.6) rotate(-90)" text-anchor="end" font-size="8.7">Ascitis</text>
<line x1="261.17" x2="261.17" y1="557.6" y2="577.4" stroke="#000" stroke-dasharray="3.4,2.7"/>
<line x1="261.17" x2="261.17" y1="595.5" y2="591.3" stroke="#000" stroke-dasharray="3.4,2.7"/>
<line x1="257.97" x2="264.37" y1="557.6" y2="557.6" stroke="#000"/>
<line x1="257.97" x2="264.37" y1="595.5" y2="595.5" stroke="#000"/>
<rect x="254.92" y="577.4" width="12.5" height="13.9" fill="#ff0000" stroke="#000" stroke-width="1"/>
<line x1="254.92" x2="267.42" y1="580.9" y2="580.9" stroke="#000" stroke-width="2.4"/>
<line x1="261.17" x2="261.17" y1="653.45" y2="660.75" stroke="#000"/>
<text transform="translate(264.47,667.6) rotate(-90)" text-anchor="end" font-size="8.7">Hypertension</text>
<line x1="276.75" x2="276.75" y1="550.9" y2="564.5" stroke="#000" stroke-dasharray="3.4,2.7"/>
<line x1="276.75" x2="276.75" y1="595.5" y2="585.9" stroke="#000" stroke-dasharray="3.4,2.7"/>
<line x1="273.55" x2="279.95" y1="550.9" y2="550.9" stroke="#000"/>
<line x1="273.55" x2="279.95" y1="595.5" y2="595.5" stroke="#000"/>
<rect x="270.5" y="564.5" width="12.5" height="21.4" fill="#ff0000" stroke="#000" stroke-width="1"/>
<line x1="270.5" x2="283" y1="578.2" y2="578.2" stroke="#000" stroke-width="2.4"/>
<line x1="276.75" x2="276.75" y1="653.45" y2="660.75" stroke="#000"/>
<text transform="translate(280.05,667.6) rotate(-90)" text-anchor="end" font-size="8.7">EstimatedLVEF</text>
<line x1="292.32" x2="292.32" y1="556" y2="571" stroke="#000" stroke-dasharray="3.4,2.7"/>
<line x1="292.32" x2="292.32" y1="603.6" y2="593.4" stroke="#000" stroke-dasharray="3.4,2.7"/>
<line x1="289.12" x2="295.52" y1="556" y2="556" stroke="#000"/>
<line x1="289.12" x2="295.52" y1="603.6" y2="603.6" stroke="#000"/>
<rect x="286.07" y="571" width="12.5" height="22.4" fill="#ff0000" stroke="#000" stroke-width="1"/>
<line x1="286.07" x2="298.57" y1="576.6" y2="576.6" stroke="#000" stroke-width="2.4"/>
<line x1="292.32" x2="292.32" y1="653.45" y2="660.75" stroke="#000"/>
<text transform="translate(295.62,667.6) rotate(-90)" text-anchor="end" font-size="8.7">ICD/CRT</text>
<line x1="307.9" x2="307.9" y1="553.8" y2="565.1" stroke="#000" stroke-dasharray="3.4,2.7"/>
<line x1="307.9" x2="307.9" y1="588.2" y2="581.5" stroke="#000" stroke-dasharray="3.4,2.7"/>
<line x1="304.7" x2="311.1" y1="553.8" y2="553.8" stroke="#000"/>
<line x1="304.7" x2="311.1" y1="588.2" y2="588.2" stroke="#000"/>
<rect x="301.65" y="565.1" width="12.5" height="16.4" fill="#ff0000" stroke="#000" stroke-width="1"/>
<line x1="301.65" x2="314.15" y1="574.7" y2="574.7" stroke="#000" stroke-width="2.4"/>
<line x1="307.9" x2="307.9" y1="653.45" y2="660.75" stroke="#000"/>
<text transform="translate(311.2,667.6) rotate(-90)" text-anchor="end" font-size="8.7">Diabetes</text>
<line x1="323.47" x2="323.47" y1="544.2" y2="563.3" stroke="#000" stroke-dasharray="3.4,2.7"/>
<line x1="323.47" x2="323.47" y1="601.9" y2="584.4" stroke="#000" stroke-dasharray="3.4,2.7"/>
<line x1="320.27" x2="326.67" y1="544.2" y2="544.2" stroke="#000"/>
<line x1="320.27" x2="326.67" y1="601.9" y2="601.9" stroke="#000"/>
<rect x="317.22" y="563.3" width="12.5" height="21.1" fill="#ff0000" stroke="#000" stroke-width="1"/>
<line x1="317.22" x2="329.72" y1="573.9" y2="573.9" stroke="#000" stroke-width="2.4"/>
<line x1="323.47" x2="323.47" y1="653.45" y2="660.75" stroke="#000"/>
<text transform="translate(326.77,667.6) rotate(-90)" text-anchor="end" font-size="8.7">INOTROP</text>
<line x1="339.05" x2="339.05" y1="558.2" y2="566.5" stroke="#000" stroke-dasharray="3.4,2.7"/>
<line x1="339.05" x2="339.05" y1="607.5" y2="585.2" stroke="#000" stroke-dasharray="3.4,2.7"/>
<line x1="335.85" x2="342.25" y1="558.2" y2="558.2" stroke="#000"/>
<line x1="335.85" x2="342.25" y1="607.5" y2="607.5" stroke="#000"/>
<rect x="332.8" y="566.5" width="12.5" height="18.7" fill="#ff0000" stroke="#000" stroke-width="1"/>
<line x1="332.8" x2="345.3" y1="573.8" y2="573.8" stroke="#000" stroke-width="2.4"/>
<line x1="339.05" x2="339.05" y1="653.45" y2="660.75" stroke="#000"/>
<text transform="translate(342.35,667.6) rotate(-90)" text-anchor="end" font-size="8.7">ogicalDiagnosis</text>
<line x1="354.62" x2="354.62" y1="557.9" y2="565.7" stroke="#000" stroke-dasharray="3.4,2.7"/>
<line x1="354.62" x2="354.62" y1="602.7" y2="585.5" stroke="#000" stroke-dasharray="3.4,2.7"/>
<line x1="351.42" x2="357.82" y1="557.9" y2="557.9" stroke="#000"/>
<line x1="351.42" x2="357.82" y1="602.7" y2="602.7" stroke="#000"/>
<rect x="348.37" y="565.7" width="12.5" height="19.8" fill="#ff0000" stroke="#000" stroke-width="1"/>
<line x1="348.37" x2="360.87" y1="573.4" y2="573.4" stroke="#000" stroke-width="2.4"/>
<circle cx="354.62" cy="615.5" r="2.9" fill="none" stroke="#000" stroke-width="1"/>
<line x1="354.62" x2="354.62" y1="653.45" y2="660.75" stroke="#000"/>
<text transform="translate(357.92,667.6) rotate(-90)" text-anchor="end" font-size="8.7">IHD/CAD</text>
<line x1="370.2" x2="370.2" y1="545.7" y2="555.4" stroke="#000" stroke-dasharray="3.4,2.7"/>
<line x1="370.2" x2="370.2" y1="593.2" y2="588.7" stroke="#000" stroke-dasharray="3.4,2.7"/>
<line x1="367" x2="373.4" y1="545.7" y2="545.7" stroke="#000"/>
<line x1="367" x2="373.4" y1="593.2" y2="593.2" stroke="#000"/>
<rect x="363.95" y="555.4" width="12.5" height="33.3" fill="#ff0000" stroke="#000" stroke-width="1"/>
<line x1="363.95" x2="376.45" y1="573.1" y2="573.1" stroke="#000" stroke-width="2.4"/>
<line x1="370.2" x2="370.2" y1="653.45" y2="660.75" stroke="#000"/>
<text transform="translate(373.5,667.6) rotate(-90)" text-anchor="end" font-size="8.7">TR</text>
<line x1="385.78" x2="385.78" y1="526.4" y2="555" stroke="#000" stroke-dasharray="3.4,2.7"/>
<line x1="385.78" x2="385.78" y1="582.7" y2="578.3" stroke="#000" stroke-dasharray="3.4,2.7"/>
<line x1="382.58" x2="388.98" y1="526.4" y2="526.4" stroke="#000"/>
<line x1="382.58" x2="388.98" y1="582.7" y2="582.7" stroke="#000"/>
<rect x="379.53" y="555" width="12.5" height="23.3" fill="#ff0000" stroke="#000" stroke-width="1"/>
<line x1="379.53" x2="392.03" y1="572.6" y2="572.6" stroke="#000" stroke-width="2.4"/>
<line x1="385.78" x2="385.78" y1="653.45" y2="660.75" stroke="#000"/>
<text transform="translate(389.08,667.6) rotate(-90)" text-anchor="end" font-size="8.7">CRF</text>
<line x1="401.35" x2="401.35" y1="539.7" y2="555.4" stroke="#000" stroke-dasharray="3.4,2.7"/>
<line x1="401.35" x2="401.35" y1="597.5" y2="586" stroke="#000" stroke-dasharray="3.4,2.7"/>
<line x1="398.15" x2="404.55" y1="539.7" y2="539.7" stroke="#000"/>
<line x1="398.15" x2="404.55" y1="597.5" y2="597.5" stroke="#000"/>
<rect x="395.1" y="555.4" width="12.5" height="30.6" fill="#ff0000" stroke="#000" stroke-width="1"/>
<line x1="395.1" x2="407.6" y1="569.4" y2="569.4" stroke="#000" stroke-width="2.4"/>
<line x1="401.35" x2="401.35" y1="653.45" y2="660.75" stroke="#000"/>
<text transform="translate(404.65,667.6) rotate(-90)" text-anchor="end" font-size="8.7">MR</text>
<line x1="416.93" x2="416.93" y1="555.9" y2="561.7" stroke="#000" stroke-dasharray="3.4,2.7"/>
<line x1="416.93" x2="416.93" y1="602.1" y2="580.6" stroke="#000" stroke-dasharray="3.4,2.7"/>
<line x1="413.73" x2="420.13" y1="555.9" y2="555.9" stroke="#000"/>
<line x1="413.73" x2="420.13" y1="602.1" y2="602.1" stroke="#000"/>
<rect x="410.68" y="561.7" width="12.5" height="18.9" fill="#ff0000" stroke="#000" stroke-width="1"/>
<line x1="410.68" x2="423.18" y1="568.1" y2="568.1" stroke="#000" stroke-width="2.4"/>
<line x1="416.93" x2="416.93" y1="653.45" y2="660.75" stroke="#000"/>
<text transform="translate(420.23,667.6) rotate(-90)" text-anchor="end" font-size="8.7">SBP</text>
<line x1="432.5" x2="432.5" y1="526.5" y2="555.6" stroke="#000" stroke-dasharray="3.4,2.7"/>
<line x1="432.5" x2="432.5" y1="606.2" y2="576.3" stroke="#000" stroke-dasharray="3.4,2.7"/>
<line x1="429.3" x2="435.7" y1="526.5" y2="526.5" stroke="#000"/>
<line x1="429.3" x2="435.7" y1="606.2" y2="606.2" stroke="#000"/>
<rect x="426.25" y="555.6" width="12.5" height="20.7" fill="#ff0000" stroke="#000" stroke-width="1"/>
<line x1="426.25" x2="438.75" y1="562.2" y2="562.2" stroke="#000" stroke-width="2.4"/>
<line x1="432.5" x2="432.5" y1="653.45" y2="660.75" stroke="#000"/>
<text transform="translate(435.8,667.6) rotate(-90)" text-anchor="end" font-size="8.7">AbnormalLFT</text>
<line x1="448.08" x2="448.08" y1="533.8" y2="551.2" stroke="#000" stroke-dasharray="3.4,2.7"/>
<line x1="448.08" x2="448.08" y1="596.5" y2="569.4" stroke="#000" stroke-dasharray="3.4,2.7"/>
<line x1="444.88" x2="451.28" y1="533.8" y2="533.8" stroke="#000"/>
<line x1="444.88" x2="451.28" y1="596.5" y2="596.5" stroke="#000"/>
<rect x="441.83" y="551.2" width="12.5" height="18.2" fill="#ff0000" stroke="#000" stroke-width="1"/>
<line x1="441.83" x2="454.33" y1="559" y2="559" stroke="#000" stroke-width="2.4"/>
<line x1="448.08" x2="448.08" y1="653.45" y2="660.75" stroke="#000"/>
<text transform="translate(451.38,667.6) rotate(-90)" text-anchor="end" font-size="8.7">Na</text>
<line x1="463.65" x2="463.65" y1="516.9" y2="542.7" stroke="#000" stroke-dasharray="3.4,2.7"/>
<line x1="463.65" x2="463.65" y1="591.7" y2="563.3" stroke="#000" stroke-dasharray="3.4,2.7"/>
<line x1="460.45" x2="466.85" y1="516.9" y2="516.9" stroke="#000"/>
<line x1="460.45" x2="466.85" y1="591.7" y2="591.7" stroke="#000"/>
<rect x="457.4" y="542.7" width="12.5" height="20.6" fill="#ffff00" stroke="#000" stroke-width="1"/>
<line x1="457.4" x2="469.9" y1="553.2" y2="553.2" stroke="#000" stroke-width="2.4"/>
<circle cx="463.65" cy="493.3" r="2.9" fill="none" stroke="#000" stroke-width="1"/>
<circle cx="463.65" cy="595.1" r="2.9" fill="none" stroke="#000" stroke-width="1"/>
<line x1="463.65" x2="463.65" y1="653.45" y2="660.75" stroke="#000"/>
<text transform="translate(466.95,667.6) rotate(-90)" text-anchor="end" font-size="8.7">ProBNP</text>
<line x1="479.23" x2="479.23" y1="506.6" y2="535.5" stroke="#000" stroke-dasharray="3.4,2.7"/>
<line x1="479.23" x2="479.23" y1="578.5" y2="555.5" stroke="#000" stroke-dasharray="3.4,2.7"/>
<line x1="476.03" x2="482.43" y1="506.6" y2="506.6" stroke="#000"/>
<line x1="476.03" x2="482.43" y1="578.5" y2="578.5" stroke="#000"/>
<rect x="472.98" y="535.5" width="12.5" height="20" fill="#0000ff" stroke="#000" stroke-width="1"/>
<line x1="472.98" x2="485.48" y1="547.2" y2="547.2" stroke="#000" stroke-width="2.4"/>
<circle cx="479.23" cy="460.1" r="2.9" fill="none" stroke="#000" stroke-width="1"/>
<circle cx="479.23" cy="484.5" r="2.9" fill="none" stroke="#000" stroke-width="1"/>
<circle cx="479.23" cy="494.1" r="2.9" fill="none" stroke="#000" stroke-width="1"/>
<line x1="479.23" x2="479.23" y1="653.45" y2="660.75" stroke="#000"/>
<text transform="translate(482.53,667.6) rotate(-90)" text-anchor="end" font-size="8.7">shadowMax</text>
<line x1="494.8" x2="494.8" y1="508.5" y2="532.3" stroke="#000" stroke-dasharray="3.4,2.7"/>
<line x1="494.8" x2="494.8" y1="585.4" y2="554.2" stroke="#000" stroke-dasharray="3.4,2.7"/>
<line x1="491.6" x2="498" y1="508.5" y2="508.5" stroke="#000"/>
<line x1="491.6" x2="498" y1="585.4" y2="585.4" stroke="#000"/>
<rect x="488.55" y="532.3" width="12.5" height="21.9" fill="#ffff00" stroke="#000" stroke-width="1"/>
<line x1="488.55" x2="501.05" y1="544.1" y2="544.1" stroke="#000" stroke-width="2.4"/>
<circle cx="494.8" cy="491.7" r="2.9" fill="none" stroke="#000" stroke-width="1"/>
<line x1="494.8" x2="494.8" y1="653.45" y2="660.75" stroke="#000"/>
<text transform="translate(498.1,667.6) rotate(-90)" text-anchor="end" font-size="8.7">Edema</text>
<line x1="510.38" x2="510.38" y1="504.2" y2="525.9" stroke="#000" stroke-dasharray="3.4,2.7"/>
<line x1="510.38" x2="510.38" y1="587.4" y2="554.5" stroke="#000" stroke-dasharray="3.4,2.7"/>
<line x1="507.18" x2="513.58" y1="504.2" y2="504.2" stroke="#000"/>
<line x1="507.18" x2="513.58" y1="587.4" y2="587.4" stroke="#000"/>
<rect x="504.13" y="525.9" width="12.5" height="28.6" fill="#ffff00" stroke="#000" stroke-width="1"/>
<line x1="504.13" x2="516.63" y1="541.5" y2="541.5" stroke="#000" stroke-width="2.4"/>
<line x1="510.38" x2="510.38" y1="653.45" y2="660.75" stroke="#000"/>
<text transform="translate(513.68,667.6) rotate(-90)" text-anchor="end" font-size="8.7">Rvdysfunction</text>
<line x1="525.96" x2="525.96" y1="488.8" y2="524.7" stroke="#000" stroke-dasharray="3.4,2.7"/>
<line x1="525.96" x2="525.96" y1="575.4" y2="550.7" stroke="#000" stroke-dasharray="3.4,2.7"/>
<line x1="522.76" x2="529.16" y1="488.8" y2="488.8" stroke="#000"/>
<line x1="522.76" x2="529.16" y1="575.4" y2="575.4" stroke="#000"/>
<rect x="519.71" y="524.7" width="12.5" height="26" fill="#ffff00" stroke="#000" stroke-width="1"/>
<line x1="519.71" x2="532.21" y1="539.9" y2="539.9" stroke="#000" stroke-width="2.4"/>
<line x1="525.96" x2="525.96" y1="653.45" y2="660.75" stroke="#000"/>
<text transform="translate(529.26,667.6) rotate(-90)" text-anchor="end" font-size="8.7">PAP</text>
<line x1="541.53" x2="541.53" y1="496.4" y2="527.6" stroke="#000" stroke-dasharray="3.4,2.7"/>
<line x1="541.53" x2="541.53" y1="585.6" y2="550.7" stroke="#000" stroke-dasharray="3.4,2.7"/>
<line x1="538.33" x2="544.73" y1="496.4" y2="496.4" stroke="#000"/>
<line x1="538.33" x2="544.73" y1="585.6" y2="585.6" stroke="#000"/>
<rect x="535.28" y="527.6" width="12.5" height="23.1" fill="#ffff00" stroke="#000" stroke-width="1"/>
<line x1="535.28" x2="547.78" y1="536.7" y2="536.7" stroke="#000" stroke-width="2.4"/>
<circle cx="541.53" cy="588" r="2.9" fill="none" stroke="#000" stroke-width="1"/>
<circle cx="541.53" cy="595.6" r="2.9" fill="none" stroke="#000" stroke-width="1"/>
<circle cx="541.53" cy="602.6" r="2.9" fill="none" stroke="#000" stroke-width="1"/>
<line x1="541.53" x2="541.53" y1="653.45" y2="660.75" stroke="#000"/>
<text transform="translate(544.83,667.6) rotate(-90)" text-anchor="end" font-size="8.7">age</text>
<line x1="557.11" x2="557.11" y1="496.9" y2="524.7" stroke="#000" stroke-dasharray="3.4,2.7"/>
<line x1="557.11" x2="557.11" y1="573.1" y2="548.4" stroke="#000" stroke-dasharray="3.4,2.7"/>
<line x1="553.91" x2="560.31" y1="496.9" y2="496.9" stroke="#000"/>
<line x1="553.91" x2="560.31" y1="573.1" y2="573.1" stroke="#000"/>
<rect x="550.86" y="524.7" width="12.5" height="23.7" fill="#00ff00" stroke="#000" stroke-width="1"/>
<line x1="550.86" x2="563.36" y1="535.2" y2="535.2" stroke="#000" stroke-width="2.4"/>
<circle cx="557.11" cy="487.6" r="2.9" fill="none" stroke="#000" stroke-width="1"/>
<circle cx="557.11" cy="591.9" r="2.9" fill="none" stroke="#000" stroke-width="1"/>
<line x1="557.11" x2="557.11" y1="653.45" y2="660.75" stroke="#000"/>
<text transform="translate(560.41,667.6) rotate(-90)" text-anchor="end" font-size="8.7">NYHAclass</text>
<line x1="572.68" x2="572.68" y1="472.7" y2="509.7" stroke="#000" stroke-dasharray="3.4,2.7"/>
<line x1="572.68" x2="572.68" y1="569.4" y2="534.4" stroke="#000" stroke-dasharray="3.4,2.7"/>
<line x1="569.48" x2="575.88" y1="472.7" y2="472.7" stroke="#000"/>
<line x1="569.48" x2="575.88" y1="569.4" y2="569.4" stroke="#000"/>
<rect x="566.43" y="509.7" width="12.5" height="24.7" fill="#00ff00" stroke="#000" stroke-width="1"/>
<line x1="566.43" x2="578.93" y1="524.1" y2="524.1" stroke="#000" stroke-width="2.4"/>
<line x1="572.68" x2="572.68" y1="653.45" y2="660.75" stroke="#000"/>
<text transform="translate(575.98,667.6) rotate(-90)" text-anchor="end" font-size="8.7">IVC</text>
<line x1="588.26" x2="588.26" y1="462.4" y2="490.8" stroke="#000" stroke-dasharray="3.4,2.7"/>
<line x1="588.26" x2="588.26" y1="538.3" y2="512.4" stroke="#000" stroke-dasharray="3.4,2.7"/>
<line x1="585.06" x2="591.46" y1="462.4" y2="462.4" stroke="#000"/>
<line x1="585.06" x2="591.46" y1="538.3" y2="538.3" stroke="#000"/>
<rect x="582.01" y="490.8" width="12.5" height="21.6" fill="#00ff00" stroke="#000" stroke-width="1"/>
<line x1="582.01" x2="594.51" y1="501.9" y2="501.9" stroke="#000" stroke-width="2.4"/>
<circle cx="588.26" cy="548" r="2.9" fill="none" stroke="#000" stroke-width="1"/>
<line x1="588.26" x2="588.26" y1="653.45" y2="660.75" stroke="#000"/>
<text transform="translate(591.56,667.6) rotate(-90)" text-anchor="end" font-size="8.7">BASECr</text>
<line x1="603.83" x2="603.83" y1="464.5" y2="490.5" stroke="#000" stroke-dasharray="3.4,2.7"/>
<line x1="603.83" x2="603.83" y1="538.2" y2="513.3" stroke="#000" stroke-dasharray="3.4,2.7"/>
<line x1="600.63" x2="607.03" y1="464.5" y2="464.5" stroke="#000"/>
<line x1="600.63" x2="607.03" y1="538.2" y2="538.2" stroke="#000"/>
<rect x="597.58" y="490.5" width="12.5" height="22.8" fill="#00ff00" stroke="#000" stroke-width="1"/>
<line x1="597.58" x2="610.08" y1="500.7" y2="500.7" stroke="#000" stroke-width="2.4"/>
<circle cx="603.83" cy="548.2" r="2.9" fill="none" stroke="#000" stroke-width="1"/>
<circle cx="603.83" cy="552.8" r="2.9" fill="none" stroke="#000" stroke-width="1"/>
<line x1="603.83" x2="603.83" y1="653.45" y2="660.75" stroke="#000"/>
<text transform="translate(607.13,667.6) rotate(-90)" text-anchor="end" font-size="8.7">BUN</text>
<line x1="619.41" x2="619.41" y1="458" y2="478.8" stroke="#000" stroke-dasharray="3.4,2.7"/>
<line x1="619.41" x2="619.41" y1="534.4" y2="509.2" stroke="#000" stroke-dasharray="3.4,2.7"/>
<line x1="616.21" x2="622.61" y1="458" y2="458" stroke="#000"/>
<line x1="616.21" x2="622.61" y1="534.4" y2="534.4" stroke="#000"/>
<rect x="613.16" y="478.8" width="12.5" height="30.4" fill="#00ff00" stroke="#000" stroke-width="1"/>
<line x1="613.16" x2="625.66" y1="494.8" y2="494.8" stroke="#000" stroke-width="2.4"/>
<circle cx="619.41" cy="557" r="2.9" fill="none" stroke="#000" stroke-width="1"/>
<circle cx="619.41" cy="561" r="2.9" fill="none" stroke="#000" stroke-width="1"/>
<line x1="619.41" x2="619.41" y1="653.45" y2="660.75" stroke="#000"/>
<text transform="translate(622.71,667.6) rotate(-90)" text-anchor="end" font-size="8.7">Uricacid</text>
<line x1="634.98" x2="634.98" y1="453.7" y2="474.7" stroke="#000" stroke-dasharray="3.4,2.7"/>
<line x1="634.98" x2="634.98" y1="529.4" y2="496.7" stroke="#000" stroke-dasharray="3.4,2.7"/>
<line x1="631.78" x2="638.18" y1="453.7" y2="453.7" stroke="#000"/>
<line x1="631.78" x2="638.18" y1="529.4" y2="529.4" stroke="#000"/>
<rect x="628.73" y="474.7" width="12.5" height="22" fill="#00ff00" stroke="#000" stroke-width="1"/>
<line x1="628.73" x2="641.23" y1="485.6" y2="485.6" stroke="#000" stroke-width="2.4"/>
<circle cx="634.98" cy="539.3" r="2.9" fill="none" stroke="#000" stroke-width="1"/>
<line x1="634.98" x2="634.98" y1="653.45" y2="660.75" stroke="#000"/>
<text transform="translate(638.28,667.6) rotate(-90)" text-anchor="end" font-size="8.7">WRF</text>
<line x1="650.56" x2="650.56" y1="411.1" y2="434.5" stroke="#000" stroke-dasharray="3.4,2.7"/>
<line x1="650.56" x2="650.56" y1="503.4" y2="464.2" stroke="#000" stroke-dasharray="3.4,2.7"/>
<line x1="647.36" x2="653.76" y1="411.1" y2="411.1" stroke="#000"/>
<line x1="647.36" x2="653.76" y1="503.4" y2="503.4" stroke="#000"/>
<rect x="644.31" y="434.5" width="12.5" height="29.7" fill="#00ff00" stroke="#000" stroke-width="1"/>
<line x1="644.31" x2="656.81" y1="446.7" y2="446.7" stroke="#000" stroke-width="2.4"/>
<line x1="650.56" x2="650.56" y1="653.45" y2="660.75" stroke="#000"/>
<text transform="translate(653.86,667.6) rotate(-90)" text-anchor="end" font-size="8.7">DischargeCr</text>
<rect x="59" y="401.7" width="622.4" height="251.75" fill="none" stroke="#000" stroke-width="1"/>
</g>
<g>
<text x="370.2" y="755.4" text-anchor="middle" font-weight="bold" font-size="14.93">Boruta feature importance in Readmission-3M</text>
<text transform="translate(11.6,898.07) rotate(-90)" text-anchor="middle" font-size="12.4">Importance</text>
<line x1="51.5" x2="59" y1="1002.76" y2="1002.76" stroke="#000" stroke-width="1"/>
<text transform="translate(41.6,1002.76) rotate(-90)" text-anchor="middle" font-size="12.2">-4</text>
<line x1="51.5" x2="59" y1="968.58" y2="968.58" stroke="#000" stroke-width="1"/>
<text transform="translate(41.6,968.58) rotate(-90)" text-anchor="middle" font-size="12.2">-2</text>
<line x1="51.5" x2="59" y1="934.4" y2="934.4" stroke="#000" stroke-width="1"/>
<text transform="translate(41.6,934.4) rotate(-90)" text-anchor="middle" font-size="12.2">0</text>
<line x1="51.5" x2="59" y1="900.22" y2="900.22" stroke="#000" stroke-width="1"/>
<text transform="translate(41.6,900.22) rotate(-90)" text-anchor="middle" font-size="12.2">2</text>
<line x1="51.5" x2="59" y1="866.04" y2="866.04" stroke="#000" stroke-width="1"/>
<text transform="translate(41.6,866.04) rotate(-90)" text-anchor="middle" font-size="12.2">4</text>
<line x1="51.5" x2="59" y1="831.86" y2="831.86" stroke="#000" stroke-width="1"/>
<text transform="translate(41.6,831.86) rotate(-90)" text-anchor="middle" font-size="12.2">6</text>
<line x1="51.5" x2="59" y1="797.68" y2="797.68" stroke="#000" stroke-width="1"/>
<text transform="translate(41.6,797.68) rotate(-90)" text-anchor="middle" font-size="12.2">8</text>
<line x1="89.84" x2="89.84" y1="944.4" y2="967.4" stroke="#000" stroke-dasharray="3.4,2.7"/>
<line x1="89.84" x2="89.84" y1="1008.5" y2="983.6" stroke="#000" stroke-dasharray="3.4,2.7"/>
<line x1="86.64" x2="93.04" y1="944.4" y2="944.4" stroke="#000"/>
<line x1="86.64" x2="93.04" y1="1008.5" y2="1008.5" stroke="#000"/>
<rect x="83.59" y="967.4" width="12.5" height="16.2" fill="#0000ff" stroke="#000" stroke-width="1"/>
<line x1="83.59" x2="96.09" y1="976" y2="976" stroke="#000" stroke-width="2.4"/>
<circle cx="89.84" cy="936.2" r="2.9" fill="none" stroke="#000" stroke-width="1"/>
<circle cx="89.84" cy="1011.5" r="2.9" fill="none" stroke="#000" stroke-width="1"/>
<circle cx="89.84" cy="1013.7" r="2.9" fill="none" stroke="#000" stroke-width="1"/>
<line x1="89.84" x2="89.84" y1="1023.95" y2="1031.25" stroke="#000"/>
<text transform="translate(93.14,1038.1) rotate(-90)" text-anchor="end" font-size="8.7">shadowMin</text>
<line x1="105.42" x2="105.42" y1="930.5" y2="937.7" stroke="#000" stroke-dasharray="3.4,2.7"/>
<line x1="105.42" x2="105.42" y1="975.5" y2="970.7" stroke="#000" stroke-dasharray="3.4,2.7"/>
<line x1="102.22" x2="108.62" y1="930.5" y2="930.5" stroke="#000"/>
<line x1="102.22" x2="108.62" y1="975.5" y2="975.5" stroke="#000"/>
<rect x="99.17" y="937.7" width="12.5" height="33" fill="#ff0000" stroke="#000" stroke-width="1"/>
<line x1="99.17" x2="111.67" y1="969.9" y2="969.9" stroke="#000" stroke-width="2.4"/>
<line x1="105.42" x2="105.42" y1="1023.95" y2="1031.25" stroke="#000"/>
<text transform="translate(108.72,1038.1) rotate(-90)" text-anchor="end" font-size="8.7">EstimatedLVEF</text>
<line x1="120.99" x2="120.99" y1="909.6" y2="930.5" stroke="#000" stroke-dasharray="3.4,2.7"/>
<line x1="120.99" x2="120.99" y1="982.4" y2="958.6" stroke="#000" stroke-dasharray="3.4,2.7"/>
<line x1="117.79" x2="124.19" y1="909.6" y2="909.6" stroke="#000"/>
<line x1="117.79" x2="124.19" y1="982.4" y2="982.4" stroke="#000"/>
<rect x="114.74" y="930.5" width="12.5" height="28.1" fill="#ff0000" stroke="#000" stroke-width="1"/>
<line x1="114.74" x2="127.24" y1="943.4" y2="943.4" stroke="#000" stroke-width="2.4"/>
<line x1="120.99" x2="120.99" y1="1023.95" y2="1031.25" stroke="#000"/>
<text transform="translate(124.29,1038.1) rotate(-90)" text-anchor="end" font-size="8.7">AbnormalLFT</text>
<line x1="136.57" x2="136.57" y1="924.1" y2="930.5" stroke="#000" stroke-dasharray="3.4,2.7"/>
<line x1="136.57" x2="136.57" y1="951.4" y2="944.2" stroke="#000" stroke-dasharray="3.4,2.7"/>
<line x1="133.37" x2="139.77" y1="924.1" y2="924.1" stroke="#000"/>
<line x1="133.37" x2="139.77" y1="951.4" y2="951.4" stroke="#000"/>
<rect x="130.32" y="930.5" width="12.5" height="13.7" fill="#ff0000" stroke="#000" stroke-width="1"/>
<line x1="130.32" x2="142.82" y1="939.7" y2="939.7" stroke="#000" stroke-width="2.4"/>
<circle cx="136.57" cy="887.7" r="2.9" fill="none" stroke="#000" stroke-width="1"/>
<line x1="136.57" x2="136.57" y1="1023.95" y2="1031.25" stroke="#000"/>
<text transform="translate(139.87,1038.1) rotate(-90)" text-anchor="end" font-size="8.7">Infection</text>
<line x1="152.14" x2="152.14" y1="906.1" y2="929.7" stroke="#000" stroke-dasharray="3.4,2.7"/>
<line x1="152.14" x2="152.14" y1="958.3" y2="950.1" stroke="#000" stroke-dasharray="3.4,2.7"/>
<line x1="148.94" x2="155.34" y1="906.1" y2="906.1" stroke="#000"/>
<line x1="148.94" x2="155.34" y1="958.3" y2="958.3" stroke="#000"/>
<rect x="145.89" y="929.7" width="12.5" height="20.4" fill="#ff0000" stroke="#000" stroke-width="1"/>
<line x1="145.89" x2="158.39" y1="938.1" y2="938.1" stroke="#000" stroke-width="2.4"/>
<line x1="152.14" x2="152.14" y1="1023.95" y2="1031.25" stroke="#000"/>
<text transform="translate(155.44,1038.1) rotate(-90)" text-anchor="end" font-size="8.7">age</text>
<line x1="167.72" x2="167.72" y1="924.4" y2="932.1" stroke="#000" stroke-dasharray="3.4,2.7"/>
<line x1="167.72" x2="167.72" y1="948.2" y2="941.4" stroke="#000" stroke-dasharray="3.4,2.7"/>
<line x1="164.52" x2="170.92" y1="924.4" y2="924.4" stroke="#000"/>
<line x1="164.52" x2="170.92" y1="948.2" y2="948.2" stroke="#000"/>
<rect x="161.47" y="932.1" width="12.5" height="9.3" fill="#ff0000" stroke="#000" stroke-width="1"/>
<line x1="161.47" x2="173.97" y1="936.9" y2="936.9" stroke="#000" stroke-width="2.4"/>
<circle cx="167.72" cy="913.9" r="2.9" fill="none" stroke="#000" stroke-width="1"/>
<circle cx="167.72" cy="959.4" r="2.9" fill="none" stroke="#000" stroke-width="1"/>
<line x1="167.72" x2="167.72" y1="1023.95" y2="1031.25" stroke="#000"/>
<text transform="translate(171.02,1038.1) rotate(-90)" text-anchor="end" font-size="8.7">smoking</text>
<line x1="183.29" x2="183.29" y1="892.5" y2="919.6" stroke="#000" stroke-dasharray="3.4,2.7"/>
<line x1="183.29" x2="183.29" y1="965" y2="961.8" stroke="#000" stroke-dasharray="3.4,2.7"/>
<line x1="180.09" x2="186.49" y1="892.5" y2="892.5" stroke="#000"/>
<line x1="180.09" x2="186.49" y1="965" y2="965" stroke="#000"/>
<rect x="177.04" y="919.6" width="12.5" height="42.2" fill="#ff0000" stroke="#000" stroke-width="1"/>
<line x1="177.04" x2="189.54" y1="936.1" y2="936.1" stroke="#000" stroke-width="2.4"/>
<line x1="183.29" x2="183.29" y1="1023.95" y2="1031.25" stroke="#000"/>
<text transform="translate(186.59,1038.1) rotate(-90)" text-anchor="end" font-size="8.7">WIDEQRS</text>
<line x1="198.87" x2="198.87" y1="912.6" y2="930.2" stroke="#000" stroke-dasharray="3.4,2.7"/>
<line x1="198.87" x2="198.87" y1="956.4" y2="941.8" stroke="#000" stroke-dasharray="3.4,2.7"/>
<line x1="195.67" x2="202.07" y1="912.6" y2="912.6" stroke="#000"/>
<line x1="195.67" x2="202.07" y1="956.4" y2="956.4" stroke="#000"/>
<rect x="192.62" y="930.2" width="12.5" height="11.6" fill="#0000ff" stroke="#000" stroke-width="1"/>
<line x1="192.62" x2="205.12" y1="935.8" y2="935.8" stroke="#000" stroke-width="2.4"/>
<circle cx="198.87" cy="909.3" r="2.9" fill="none" stroke="#000" stroke-width="1"/>
<circle cx="198.87" cy="910.5" r="2.9" fill="none" stroke="#000" stroke-width="1"/>
<circle cx="198.87" cy="961.9" r="2.9" fill="none" stroke="#000" stroke-width="1"/>
<line x1="198.87" x2="198.87" y1="1023.95" y2="1031.25" stroke="#000"/>
<text transform="translate(202.17,1038.1) rotate(-90)" text-anchor="end" font-size="8.7">shadowMean</text>
<line x1="214.44" x2="214.44" y1="912.6" y2="914.2" stroke="#000" stroke-dasharray="3.4,2.7"/>
<line x1="214.44" x2="214.44" y1="958.3" y2="948.7" stroke="#000" stroke-dasharray="3.4,2.7"/>
<line x1="211.24" x2="217.64" y1="912.6" y2="912.6" stroke="#000"/>
<line x1="211.24" x2="217.64" y1="958.3" y2="958.3" stroke="#000"/>
<rect x="208.19" y="914.2" width="12.5" height="34.5" fill="#ff0000" stroke="#000" stroke-width="1"/>
<line x1="208.19" x2="220.69" y1="933.1" y2="933.1" stroke="#000" stroke-width="2.4"/>
<line x1="214.44" x2="214.44" y1="1023.95" y2="1031.25" stroke="#000"/>
<text transform="translate(217.74,1038.1) rotate(-90)" text-anchor="end" font-size="8.7">Sex</text>
<line x1="230.02" x2="230.02" y1="882" y2="913" stroke="#000" stroke-dasharray="3.4,2.7"/>
<line x1="230.02" x2="230.02" y1="962.3" y2="936.3" stroke="#000" stroke-dasharray="3.4,2.7"/>
<line x1="226.82" x2="233.22" y1="882" y2="882" stroke="#000"/>
<line x1="226.82" x2="233.22" y1="962.3" y2="962.3" stroke="#000"/>
<rect x="223.77" y="913" width="12.5" height="23.3" fill="#ff0000" stroke="#000" stroke-width="1"/>
<line x1="223.77" x2="236.27" y1="931.8" y2="931.8" stroke="#000" stroke-width="2.4"/>
<line x1="230.02" x2="230.02" y1="1023.95" y2="1031.25" stroke="#000"/>
<text transform="translate(233.32,1038.1) rotate(-90)" text-anchor="end" font-size="8.7">IHD/CAD</text>
<line x1="245.6" x2="245.6" y1="913" y2="918.2" stroke="#000" stroke-dasharray="3.4,2.7"/>
<line x1="245.6" x2="245.6" y1="980.9" y2="943.9" stroke="#000" stroke-dasharray="3.4,2.7"/>
<line x1="242.4" x2="248.8" y1="913" y2="913" stroke="#000"/>
<line x1="242.4" x2="248.8" y1="980.9" y2="980.9" stroke="#000"/>
<rect x="239.35" y="918.2" width="12.5" height="25.7" fill="#ff0000" stroke="#000" stroke-width="1"/>
<line x1="239.35" x2="251.85" y1="931.8" y2="931.8" stroke="#000" stroke-width="2.4"/>
<line x1="245.6" x2="245.6" y1="1023.95" y2="1031.25" stroke="#000"/>
<text transform="translate(248.9,1038.1) rotate(-90)" text-anchor="end" font-size="8.7">Edema</text>
<line x1="261.17" x2="261.17" y1="916.6" y2="927.3" stroke="#000" stroke-dasharray="3.4,2.7"/>
<line x1="261.17" x2="261.17" y1="943.4" y2="935.5" stroke="#000" stroke-dasharray="3.4,2.7"/>
<line x1="257.97" x2="264.37" y1="916.6" y2="916.6" stroke="#000"/>
<line x1="257.97" x2="264.37" y1="943.4" y2="943.4" stroke="#000"/>
<rect x="254.92" y="927.3" width="12.5" height="8.2" fill="#ff0000" stroke="#000" stroke-width="1"/>
<line x1="254.92" x2="267.42" y1="931.3" y2="931.3" stroke="#000" stroke-width="2.4"/>
<circle cx="261.17" cy="958" r="2.9" fill="none" stroke="#000" stroke-width="1"/>
<line x1="261.17" x2="261.17" y1="1023.95" y2="1031.25" stroke="#000"/>
<text transform="translate(264.47,1038.1) rotate(-90)" text-anchor="end" font-size="8.7">ProBNP</text>
<line x1="276.75" x2="276.75" y1="914.2" y2="922.5" stroke="#000" stroke-dasharray="3.4,2.7"/>
<line x1="276.75" x2="276.75" y1="955.9" y2="938.3" stroke="#000" stroke-dasharray="3.4,2.7"/>
<line x1="273.55" x2="279.95" y1="914.2" y2="914.2" stroke="#000"/>
<line x1="273.55" x2="279.95" y1="955.9" y2="955.9" stroke="#000"/>
<rect x="270.5" y="922.5" width="12.5" height="15.8" fill="#ff0000" stroke="#000" stroke-width="1"/>
<line x1="270.5" x2="283" y1="930.7" y2="930.7" stroke="#000" stroke-width="2.4"/>
<line x1="276.75" x2="276.75" y1="1023.95" y2="1031.25" stroke="#000"/>
<text transform="translate(280.05,1038.1) rotate(-90)" text-anchor="end" font-size="8.7">ICD/CRT</text>
<line x1="292.32" x2="292.32" y1="906.1" y2="917.4" stroke="#000" stroke-dasharray="3.4,2.7"/>
<line x1="292.32" x2="292.32" y1="954.8" y2="935" stroke="#000" stroke-dasharray="3.4,2.7"/>
<line x1="289.12" x2="295.52" y1="906.1" y2="906.1" stroke="#000"/>
<line x1="289.12" x2="295.52" y1="954.8" y2="954.8" stroke="#000"/>
<rect x="286.07" y="917.4" width="12.5" height="17.6" fill="#ff0000" stroke="#000" stroke-width="1"/>
<line x1="286.07" x2="298.57" y1="927.5" y2="927.5" stroke="#000" stroke-width="2.4"/>
<line x1="292.32" x2="292.32" y1="1023.95" y2="1031.25" stroke="#000"/>
<text transform="translate(295.62,1038.1) rotate(-90)" text-anchor="end" font-size="8.7">Na</text>
<line x1="307.9" x2="307.9" y1="916.6" y2="924.3" stroke="#000" stroke-dasharray="3.4,2.7"/>
<line x1="307.9" x2="307.9" y1="951.1" y2="940.2" stroke="#000" stroke-dasharray="3.4,2.7"/>
<line x1="304.7" x2="311.1" y1="916.6" y2="916.6" stroke="#000"/>
<line x1="304.7" x2="311.1" y1="951.1" y2="951.1" stroke="#000"/>
<rect x="301.65" y="924.3" width="12.5" height="15.9" fill="#ff0000" stroke="#000" stroke-width="1"/>
<line x1="301.65" x2="314.15" y1="926.5" y2="926.5" stroke="#000" stroke-width="2.4"/>
<line x1="307.9" x2="307.9" y1="1023.95" y2="1031.25" stroke="#000"/>
<text transform="translate(311.2,1038.1) rotate(-90)" text-anchor="end" font-size="8.7">AF</text>
<line x1="323.47" x2="323.47" y1="891.2" y2="909.7" stroke="#000" stroke-dasharray="3.4,2.7"/>
<line x1="323.47" x2="323.47" y1="968.8" y2="937.9" stroke="#000" stroke-dasharray="3.4,2.7"/>
<line x1="320.27" x2="326.67" y1="891.2" y2="891.2" stroke="#000"/>
<line x1="320.27" x2="326.67" y1="968.8" y2="968.8" stroke="#000"/>
<rect x="317.22" y="909.7" width="12.5" height="28.2" fill="#ff0000" stroke="#000" stroke-width="1"/>
<line x1="317.22" x2="329.72" y1="926.7" y2="926.7" stroke="#000" stroke-width="2.4"/>
<line x1="323.47" x2="323.47" y1="1023.95" y2="1031.25" stroke="#000"/>
<text transform="translate(326.77,1038.1) rotate(-90)" text-anchor="end" font-size="8.7">NYHAclass</text>
<line x1="339.05" x2="339.05" y1="913.7" y2="922.5" stroke="#000" stroke-dasharray="3.4,2.7"/>
<line x1="339.05" x2="339.05" y1="956.4" y2="939.1" stroke="#000" stroke-dasharray="3.4,2.7"/>
<line x1="335.85" x2="342.25" y1="913.7" y2="913.7" stroke="#000"/>
<line x1="335.85" x2="342.25" y1="956.4" y2="956.4" stroke="#000"/>
<rect x="332.8" y="922.5" width="12.5" height="16.6" fill="#ff0000" stroke="#000" stroke-width="1"/>
<line x1="332.8" x2="345.3" y1="925.7" y2="925.7" stroke="#000" stroke-width="2.4"/>
<circle cx="339.05" cy="977.9" r="2.9" fill="none" stroke="#000" stroke-width="1"/>
<line x1="339.05" x2="339.05" y1="1023.95" y2="1031.25" stroke="#000"/>
<text transform="translate(342.35,1038.1) rotate(-90)" text-anchor="end" font-size="8.7">MR</text>
<line x1="354.62" x2="354.62" y1="883.2" y2="901.3" stroke="#000" stroke-dasharray="3.4,2.7"/>
<line x1="354.62" x2="354.62" y1="949.5" y2="928.3" stroke="#000" stroke-dasharray="3.4,2.7"/>
<line x1="351.42" x2="357.82" y1="883.2" y2="883.2" stroke="#000"/>
<line x1="351.42" x2="357.82" y1="949.5" y2="949.5" stroke="#000"/>
<rect x="348.37" y="901.3" width="12.5" height="27" fill="#ff0000" stroke="#000" stroke-width="1"/>
<line x1="348.37" x2="360.87" y1="924.1" y2="924.1" stroke="#000" stroke-width="2.4"/>
<line x1="354.62" x2="354.62" y1="1023.95" y2="1031.25" stroke="#000"/>
<text transform="translate(357.92,1038.1) rotate(-90)" text-anchor="end" font-size="8.7">SBP</text>
<line x1="370.2" x2="370.2" y1="893.8" y2="918.2" stroke="#000" stroke-dasharray="3.4,2.7"/>
<line x1="370.2" x2="370.2" y1="961.1" y2="940.2" stroke="#000" stroke-dasharray="3.4,2.7"/>
<line x1="367" x2="373.4" y1="893.8" y2="893.8" stroke="#000"/>
<line x1="367" x2="373.4" y1="961.1" y2="961.1" stroke="#000"/>
<rect x="363.95" y="918.2" width="12.5" height="22" fill="#ff0000" stroke="#000" stroke-width="1"/>
<line x1="363.95" x2="376.45" y1="923.5" y2="923.5" stroke="#000" stroke-width="2.4"/>
<line x1="370.2" x2="370.2" y1="1023.95" y2="1031.25" stroke="#000"/>
<text transform="translate(373.5,1038.1) rotate(-90)" text-anchor="end" font-size="8.7">HR</text>
<line x1="385.78" x2="385.78" y1="911.4" y2="918.2" stroke="#000" stroke-dasharray="3.4,2.7"/>
<line x1="385.78" x2="385.78" y1="928.4" y2="927.5" stroke="#000" stroke-dasharray="3.4,2.7"/>
<line x1="382.58" x2="388.98" y1="911.4" y2="911.4" stroke="#000"/>
<line x1="382.58" x2="388.98" y1="928.4" y2="928.4" stroke="#000"/>
<rect x="379.53" y="918.2" width="12.5" height="9.3" fill="#ff0000" stroke="#000" stroke-width="1"/>
<line x1="379.53" x2="392.03" y1="922.7" y2="922.7" stroke="#000" stroke-width="2.4"/>
<circle cx="385.78" cy="891.7" r="2.9" fill="none" stroke="#000" stroke-width="1"/>
<circle cx="385.78" cy="949.5" r="2.9" fill="none" stroke="#000" stroke-width="1"/>
<line x1="385.78" x2="385.78" y1="1023.95" y2="1031.25" stroke="#000"/>
<text transform="translate(389.08,1038.1) rotate(-90)" text-anchor="end" font-size="8.7">WRF</text>
<line x1="401.35" x2="401.35" y1="905.3" y2="913.8" stroke="#000" stroke-dasharray="3.4,2.7"/>
<line x1="401.35" x2="401.35" y1="943.6" y2="934.6" stroke="#000" stroke-dasharray="3.4,2.7"/>
<line x1="398.15" x2="404.55" y1="905.3" y2="905.3" stroke="#000"/>
<line x1="398.15" x2="404.55" y1="943.6" y2="943.6" stroke="#000"/>
<rect x="395.1" y="913.8" width="12.5" height="20.8" fill="#ff0000" stroke="#000" stroke-width="1"/>
<line x1="395.1" x2="407.6" y1="920.3" y2="920.3" stroke="#000" stroke-width="2.4"/>
<line x1="401.35" x2="401.35" y1="1023.95" y2="1031.25" stroke="#000"/>
<text transform="translate(404.65,1038.1) rotate(-90)" text-anchor="end" font-size="8.7">BUN</text>
<line x1="416.93" x2="416.93" y1="889.3" y2="904.1" stroke="#000" stroke-dasharray="3.4,2.7"/>
<line x1="416.93" x2="416.93" y1="982.3" y2="940.3" stroke="#000" stroke-dasharray="3.4,2.7"/>
<line x1="413.73" x2="420.13" y1="889.3" y2="889.3" stroke="#000"/>
<line x1="413.73" x2="420.13" y1="982.3" y2="982.3" stroke="#000"/>
<rect x="410.68" y="904.1" width="12.5" height="36.2" fill="#ff0000" stroke="#000" stroke-width="1"/>
<line x1="410.68" x2="423.18" y1="916.3" y2="916.3" stroke="#000" stroke-width="2.4"/>
<line x1="416.93" x2="416.93" y1="1023.95" y2="1031.25" stroke="#000"/>
<text transform="translate(420.23,1038.1) rotate(-90)" text-anchor="end" font-size="8.7">ogicalDiagnosis</text>
<line x1="432.5" x2="432.5" y1="872.8" y2="901.4" stroke="#000" stroke-dasharray="3.4,2.7"/>
<line x1="432.5" x2="432.5" y1="929.2" y2="922.3" stroke="#000" stroke-dasharray="3.4,2.7"/>
<line x1="429.3" x2="435.7" y1="872.8" y2="872.8" stroke="#000"/>
<line x1="429.3" x2="435.7" y1="929.2" y2="929.2" stroke="#000"/>
<rect x="426.25" y="901.4" width="12.5" height="20.9" fill="#ff0000" stroke="#000" stroke-width="1"/>
<line x1="426.25" x2="438.75" y1="915.8" y2="915.8" stroke="#000" stroke-width="2.4"/>
<circle cx="432.5" cy="862.8" r="2.9" fill="none" stroke="#000" stroke-width="1"/>
<line x1="432.5" x2="432.5" y1="1023.95" y2="1031.25" stroke="#000"/>
<text transform="translate(435.8,1038.1) rotate(-90)" text-anchor="end" font-size="8.7">Ascitis</text>
<line x1="448.08" x2="448.08" y1="868.5" y2="901.7" stroke="#000" stroke-dasharray="3.4,2.7"/>
<line x1="448.08" x2="448.08" y1="957.6" y2="928.2" stroke="#000" stroke-dasharray="3.4,2.7"/>
<line x1="444.88" x2="451.28" y1="868.5" y2="868.5" stroke="#000"/>
<line x1="444.88" x2="451.28" y1="957.6" y2="957.6" stroke="#000"/>
<rect x="441.83" y="901.7" width="12.5" height="26.5" fill="#ff0000" stroke="#000" stroke-width="1"/>
<line x1="441.83" x2="454.33" y1="915.4" y2="915.4" stroke="#000" stroke-width="2.4"/>
<line x1="448.08" x2="448.08" y1="1023.95" y2="1031.25" stroke="#000"/>
<text transform="translate(451.38,1038.1) rotate(-90)" text-anchor="end" font-size="8.7">Hypertension</text>
<line x1="463.65" x2="463.65" y1="885.7" y2="902.5" stroke="#000" stroke-dasharray="3.4,2.7"/>
<line x1="463.65" x2="463.65" y1="962.7" y2="935.1" stroke="#000" stroke-dasharray="3.4,2.7"/>
<line x1="460.45" x2="466.85" y1="885.7" y2="885.7" stroke="#000"/>
<line x1="460.45" x2="466.85" y1="962.7" y2="962.7" stroke="#000"/>
<rect x="457.4" y="902.5" width="12.5" height="32.6" fill="#ff0000" stroke="#000" stroke-width="1"/>
<line x1="457.4" x2="469.9" y1="913.4" y2="913.4" stroke="#000" stroke-width="2.4"/>
<line x1="463.65" x2="463.65" y1="1023.95" y2="1031.25" stroke="#000"/>
<text transform="translate(466.95,1038.1) rotate(-90)" text-anchor="end" font-size="8.7">INOTROP</text>
<line x1="479.23" x2="479.23" y1="902.5" y2="910.5" stroke="#000" stroke-dasharray="3.4,2.7"/>
<line x1="479.23" x2="479.23" y1="937.2" y2="924.2" stroke="#000" stroke-dasharray="3.4,2.7"/>
<line x1="476.03" x2="482.43" y1="902.5" y2="902.5" stroke="#000"/>
<line x1="476.03" x2="482.43" y1="937.2" y2="937.2" stroke="#000"/>
<rect x="472.98" y="910.5" width="12.5" height="13.7" fill="#ff0000" stroke="#000" stroke-width="1"/>
<line x1="472.98" x2="485.48" y1="913.4" y2="913.4" stroke="#000" stroke-width="2.4"/>
<circle cx="479.23" cy="956.8" r="2.9" fill="none" stroke="#000" stroke-width="1"/>
<line x1="479.23" x2="479.23" y1="1023.95" y2="1031.25" stroke="#000"/>
<text transform="translate(482.53,1038.1) rotate(-90)" text-anchor="end" font-size="8.7">Rvdysfunction</text>
<line x1="494.8" x2="494.8" y1="887.3" y2="904.1" stroke="#000" stroke-dasharray="3.4,2.7"/>
<line x1="494.8" x2="494.8" y1="948" y2="927.1" stroke="#000" stroke-dasharray="3.4,2.7"/>
<line x1="491.6" x2="498" y1="887.3" y2="887.3" stroke="#000"/>
<line x1="491.6" x2="498" y1="948" y2="948" stroke="#000"/>
<rect x="488.55" y="904.1" width="12.5" height="23" fill="#ff0000" stroke="#000" stroke-width="1"/>
<line x1="488.55" x2="501.05" y1="909.4" y2="909.4" stroke="#000" stroke-width="2.4"/>
<line x1="494.8" x2="494.8" y1="1023.95" y2="1031.25" stroke="#000"/>
<text transform="translate(498.1,1038.1) rotate(-90)" text-anchor="end" font-size="8.7">Uricacid</text>
<line x1="510.38" x2="510.38" y1="836.5" y2="877.6" stroke="#000" stroke-dasharray="3.4,2.7"/>
<line x1="510.38" x2="510.38" y1="949.5" y2="910.5" stroke="#000" stroke-dasharray="3.4,2.7"/>
<line x1="507.18" x2="513.58" y1="836.5" y2="836.5" stroke="#000"/>
<line x1="507.18" x2="513.58" y1="949.5" y2="949.5" stroke="#000"/>
<rect x="504.13" y="877.6" width="12.5" height="32.9" fill="#ffff00" stroke="#000" stroke-width="1"/>
<line x1="504.13" x2="516.63" y1="894.6" y2="894.6" stroke="#000" stroke-width="2.4"/>
<line x1="510.38" x2="510.38" y1="1023.95" y2="1031.25" stroke="#000"/>
<text transform="translate(513.68,1038.1) rotate(-90)" text-anchor="end" font-size="8.7">IVC</text>
<line x1="525.96" x2="525.96" y1="859.2" y2="885.4" stroke="#000" stroke-dasharray="3.4,2.7"/>
<line x1="525.96" x2="525.96" y1="938.3" y2="906.5" stroke="#000" stroke-dasharray="3.4,2.7"/>
<line x1="522.76" x2="529.16" y1="859.2" y2="859.2" stroke="#000"/>
<line x1="522.76" x2="529.16" y1="938.3" y2="938.3" stroke="#000"/>
<rect x="519.71" y="885.4" width="12.5" height="21.1" fill="#ffff00" stroke="#000" stroke-width="1"/>
<line x1="519.71" x2="532.21" y1="894.3" y2="894.3" stroke="#000" stroke-width="2.4"/>
<circle cx="525.96" cy="852" r="2.9" fill="none" stroke="#000" stroke-width="1"/>
<circle cx="525.96" cy="838.7" r="2.9" fill="none" stroke="#000" stroke-width="1"/>
<line x1="525.96" x2="525.96" y1="1023.95" y2="1031.25" stroke="#000"/>
<text transform="translate(529.26,1038.1) rotate(-90)" text-anchor="end" font-size="8.7">dialysis</text>
<line x1="541.53" x2="541.53" y1="838.5" y2="877.2" stroke="#000" stroke-dasharray="3.4,2.7"/>
<line x1="541.53" x2="541.53" y1="925.8" y2="905.2" stroke="#000" stroke-dasharray="3.4,2.7"/>
<line x1="538.33" x2="544.73" y1="838.5" y2="838.5" stroke="#000"/>
<line x1="538.33" x2="544.73" y1="925.8" y2="925.8" stroke="#000"/>
<rect x="535.28" y="877.2" width="12.5" height="28" fill="#0000ff" stroke="#000" stroke-width="1"/>
<line x1="535.28" x2="547.78" y1="891.9" y2="891.9" stroke="#000" stroke-width="2.4"/>
<circle cx="541.53" cy="781.3" r="2.9" fill="none" stroke="#000" stroke-width="1"/>
<line x1="541.53" x2="541.53" y1="1023.95" y2="1031.25" stroke="#000"/>
<text transform="translate(544.83,1038.1) rotate(-90)" text-anchor="end" font-size="8.7">shadowMax</text>
<line x1="557.11" x2="557.11" y1="835.2" y2="874.6" stroke="#000" stroke-dasharray="3.4,2.7"/>
<line x1="557.11" x2="557.11" y1="935.4" y2="902.2" stroke="#000" stroke-dasharray="3.4,2.7"/>
<line x1="553.91" x2="560.31" y1="835.2" y2="835.2" stroke="#000"/>
<line x1="553.91" x2="560.31" y1="935.4" y2="935.4" stroke="#000"/>
<rect x="550.86" y="874.6" width="12.5" height="27.6" fill="#ffff00" stroke="#000" stroke-width="1"/>
<line x1="550.86" x2="563.36" y1="887.1" y2="887.1" stroke="#000" stroke-width="2.4"/>
<circle cx="557.11" cy="824" r="2.9" fill="none" stroke="#000" stroke-width="1"/>
<circle cx="557.11" cy="953.8" r="2.9" fill="none" stroke="#000" stroke-width="1"/>
<line x1="557.11" x2="557.11" y1="1023.95" y2="1031.25" stroke="#000"/>
<text transform="translate(560.41,1038.1) rotate(-90)" text-anchor="end" font-size="8.7">TR</text>
<line x1="572.68" x2="572.68" y1="823.4" y2="864.5" stroke="#000" stroke-dasharray="3.4,2.7"/>
<line x1="572.68" x2="572.68" y1="933.7" y2="894.3" stroke="#000" stroke-dasharray="3.4,2.7"/>
<line x1="569.48" x2="575.88" y1="823.4" y2="823.4" stroke="#000"/>
<line x1="569.48" x2="575.88" y1="933.7" y2="933.7" stroke="#000"/>
<rect x="566.43" y="864.5" width="12.5" height="29.8" fill="#ffff00" stroke="#000" stroke-width="1"/>
<line x1="566.43" x2="578.93" y1="882.1" y2="882.1" stroke="#000" stroke-width="2.4"/>
<circle cx="572.68" cy="952.8" r="2.9" fill="none" stroke="#000" stroke-width="1"/>
<line x1="572.68" x2="572.68" y1="1023.95" y2="1031.25" stroke="#000"/>
<text transform="translate(575.98,1038.1) rotate(-90)" text-anchor="end" font-size="8.7">Diabetes</text>
<line x1="588.26" x2="588.26" y1="831.1" y2="866.3" stroke="#000" stroke-dasharray="3.4,2.7"/>
<line x1="588.26" x2="588.26" y1="931.3" y2="894.4" stroke="#000" stroke-dasharray="3.4,2.7"/>
<line x1="585.06" x2="591.46" y1="831.1" y2="831.1" stroke="#000"/>
<line x1="585.06" x2="591.46" y1="931.3" y2="931.3" stroke="#000"/>
<rect x="582.01" y="866.3" width="12.5" height="28.1" fill="#ffff00" stroke="#000" stroke-width="1"/>
<line x1="582.01" x2="594.51" y1="880" y2="880" stroke="#000" stroke-width="2.4"/>
<circle cx="588.26" cy="815.3" r="2.9" fill="none" stroke="#000" stroke-width="1"/>
<circle cx="588.26" cy="819.3" r="2.9" fill="none" stroke="#000" stroke-width="1"/>
<circle cx="588.26" cy="937.9" r="2.9" fill="none" stroke="#000" stroke-width="1"/>
<line x1="588.26" x2="588.26" y1="1023.95" y2="1031.25" stroke="#000"/>
<text transform="translate(591.56,1038.1) rotate(-90)" text-anchor="end" font-size="8.7">PAP</text>
<line x1="603.83" x2="603.83" y1="813.8" y2="841.9" stroke="#000" stroke-dasharray="3.4,2.7"/>
<line x1="603.83" x2="603.83" y1="897.4" y2="870.9" stroke="#000" stroke-dasharray="3.4,2.7"/>
<line x1="600.63" x2="607.03" y1="813.8" y2="813.8" stroke="#000"/>
<line x1="600.63" x2="607.03" y1="897.4" y2="897.4" stroke="#000"/>
<rect x="597.58" y="841.9" width="12.5" height="29" fill="#00ff00" stroke="#000" stroke-width="1"/>
<line x1="597.58" x2="610.08" y1="857.8" y2="857.8" stroke="#000" stroke-width="2.4"/>
<circle cx="603.83" cy="784.2" r="2.9" fill="none" stroke="#000" stroke-width="1"/>
<line x1="603.83" x2="603.83" y1="1023.95" y2="1031.25" stroke="#000"/>
<text transform="translate(607.13,1038.1) rotate(-90)" text-anchor="end" font-size="8.7">DischargeCr</text>
<line x1="619.41" x2="619.41" y1="805.5" y2="842.5" stroke="#000" stroke-dasharray="3.4,2.7"/>
<line x1="619.41" x2="619.41" y1="902.7" y2="866.8" stroke="#000" stroke-dasharray="3.4,2.7"/>
<line x1="616.21" x2="622.61" y1="805.5" y2="805.5" stroke="#000"/>
<line x1="616.21" x2="622.61" y1="902.7" y2="902.7" stroke="#000"/>
<rect x="613.16" y="842.5" width="12.5" height="24.3" fill="#00ff00" stroke="#000" stroke-width="1"/>
<line x1="613.16" x2="625.66" y1="856.7" y2="856.7" stroke="#000" stroke-width="2.4"/>
<circle cx="619.41" cy="905.1" r="2.9" fill="none" stroke="#000" stroke-width="1"/>
<line x1="619.41" x2="619.41" y1="1023.95" y2="1031.25" stroke="#000"/>
<text transform="translate(622.71,1038.1) rotate(-90)" text-anchor="end" font-size="8.7">CRF</text>
<line x1="634.98" x2="634.98" y1="801.1" y2="841.6" stroke="#000" stroke-dasharray="3.4,2.7"/>
<line x1="634.98" x2="634.98" y1="902.7" y2="869.9" stroke="#000" stroke-dasharray="3.4,2.7"/>
<line x1="631.78" x2="638.18" y1="801.1" y2="801.1" stroke="#000"/>
<line x1="631.78" x2="638.18" y1="902.7" y2="902.7" stroke="#000"/>
<rect x="628.73" y="841.6" width="12.5" height="28.3" fill="#00ff00" stroke="#000" stroke-width="1"/>
<line x1="628.73" x2="641.23" y1="855.4" y2="855.4" stroke="#000" stroke-width="2.4"/>
<circle cx="634.98" cy="789.7" r="2.9" fill="none" stroke="#000" stroke-width="1"/>
<circle cx="634.98" cy="793.9" r="2.9" fill="none" stroke="#000" stroke-width="1"/>
<line x1="634.98" x2="634.98" y1="1023.95" y2="1031.25" stroke="#000"/>
<text transform="translate(638.28,1038.1) rotate(-90)" text-anchor="end" font-size="8.7">BASECr</text>
<line x1="650.56" x2="650.56" y1="791" y2="816.6" stroke="#000" stroke-dasharray="3.4,2.7"/>
<line x1="650.56" x2="650.56" y1="882.1" y2="849.9" stroke="#000" stroke-dasharray="3.4,2.7"/>
<line x1="647.36" x2="653.76" y1="791" y2="791" stroke="#000"/>
<line x1="647.36" x2="653.76" y1="882.1" y2="882.1" stroke="#000"/>
<rect x="644.31" y="816.6" width="12.5" height="33.3" fill="#00ff00" stroke="#000" stroke-width="1"/>
<line x1="644.31" x2="656.81" y1="831.8" y2="831.8" stroke="#000" stroke-width="2.4"/>
<line x1="650.56" x2="650.56" y1="1023.95" y2="1031.25" stroke="#000"/>
<text transform="translate(653.86,1038.1) rotate(-90)" text-anchor="end" font-size="8.7">Hb</text>
<rect x="59" y="772.2" width="622.4" height="251.75" fill="none" stroke="#000" stroke-width="1"/>
</g>
<g>
<text x="370.2" y="1125.8" text-anchor="middle" font-weight="bold" font-size="14.93">Boruta feature importance in Mortality-6M</text>
<text transform="translate(11.6,1268.48) rotate(-90)" text-anchor="middle" font-size="12.4">Importance</text>
<line x1="51.5" x2="59" y1="1386.3" y2="1386.3" stroke="#000" stroke-width="1"/>
<text transform="translate(41.6,1386.3) rotate(-90)" text-anchor="middle" font-size="12.2">-5</text>
<line x1="51.5" x2="59" y1="1308.3" y2="1308.3" stroke="#000" stroke-width="1"/>
<text transform="translate(41.6,1308.3) rotate(-90)" text-anchor="middle" font-size="12.2">0</text>
<line x1="51.5" x2="59" y1="1230.3" y2="1230.3" stroke="#000" stroke-width="1"/>
<text transform="translate(41.6,1230.3) rotate(-90)" text-anchor="middle" font-size="12.2">5</text>
<line x1="51.5" x2="59" y1="1152.3" y2="1152.3" stroke="#000" stroke-width="1"/>
<text transform="translate(41.6,1152.3) rotate(-90)" text-anchor="middle" font-size="12.2">10</text>
<line x1="89.84" x2="89.84" y1="1319.1" y2="1336.3" stroke="#000" stroke-dasharray="3.4,2.7"/>
<line x1="89.84" x2="89.84" y1="1370.4" y2="1350.3" stroke="#000" stroke-dasharray="3.4,2.7"/>
<line x1="86.64" x2="93.04" y1="1319.1" y2="1319.1" stroke="#000"/>
<line x1="86.64" x2="93.04" y1="1370.4" y2="1370.4" stroke="#000"/>
<rect x="83.59" y="1336.3" width="12.5" height="14" fill="#0000ff" stroke="#000" stroke-width="1"/>
<line x1="83.59" x2="96.09" y1="1343.2" y2="1343.2" stroke="#000" stroke-width="2.4"/>
<circle cx="89.84" cy="1384.9" r="2.9" fill="none" stroke="#000" stroke-width="1"/>
<line x1="89.84" x2="89.84" y1="1394.35" y2="1401.65" stroke="#000"/>
<text transform="translate(93.14,1408.5) rotate(-90)" text-anchor="end" font-size="8.7">shadowMin</text>
<line x1="105.42" x2="105.42" y1="1301.8" y2="1305.4" stroke="#000" stroke-dasharray="3.4,2.7"/>
<line x1="105.42" x2="105.42" y1="1334.2" y2="1331.5" stroke="#000" stroke-dasharray="3.4,2.7"/>
<line x1="102.22" x2="108.62" y1="1301.8" y2="1301.8" stroke="#000"/>
<line x1="102.22" x2="108.62" y1="1334.2" y2="1334.2" stroke="#000"/>
<rect x="99.17" y="1305.4" width="12.5" height="26.1" fill="#ff0000" stroke="#000" stroke-width="1"/>
<line x1="99.17" x2="111.67" y1="1324.7" y2="1324.7" stroke="#000" stroke-width="2.4"/>
<line x1="105.42" x2="105.42" y1="1394.35" y2="1401.65" stroke="#000"/>
<text transform="translate(108.72,1408.5) rotate(-90)" text-anchor="end" font-size="8.7">HR</text>
<line x1="120.99" x2="120.99" y1="1303.4" y2="1307.7" stroke="#000" stroke-dasharray="3.4,2.7"/>
<line x1="120.99" x2="120.99" y1="1326.2" y2="1318.6" stroke="#000" stroke-dasharray="3.4,2.7"/>
<line x1="117.79" x2="124.19" y1="1303.4" y2="1303.4" stroke="#000"/>
<line x1="117.79" x2="124.19" y1="1326.2" y2="1326.2" stroke="#000"/>
<rect x="114.74" y="1307.7" width="12.5" height="10.9" fill="#ff0000" stroke="#000" stroke-width="1"/>
<line x1="114.74" x2="127.24" y1="1311.4" y2="1311.4" stroke="#000" stroke-width="2.4"/>
<line x1="120.99" x2="120.99" y1="1394.35" y2="1401.65" stroke="#000"/>
<text transform="translate(124.29,1408.5) rotate(-90)" text-anchor="end" font-size="8.7">Infection</text>
<line x1="136.57" x2="136.57" y1="1282" y2="1300.1" stroke="#000" stroke-dasharray="3.4,2.7"/>
<line x1="136.57" x2="136.57" y1="1329.1" y2="1319.4" stroke="#000" stroke-dasharray="3.4,2.7"/>
<line x1="133.37" x2="139.77" y1="1282" y2="1282" stroke="#000"/>
<line x1="133.37" x2="139.77" y1="1329.1" y2="1329.1" stroke="#000"/>
<rect x="130.32" y="1300.1" width="12.5" height="19.3" fill="#ff0000" stroke="#000" stroke-width="1"/>
<line x1="130.32" x2="142.82" y1="1309.8" y2="1309.8" stroke="#000" stroke-width="2.4"/>
<line x1="136.57" x2="136.57" y1="1394.35" y2="1401.65" stroke="#000"/>
<text transform="translate(139.87,1408.5) rotate(-90)" text-anchor="end" font-size="8.7">Diabetes</text>
<line x1="152.14" x2="152.14" y1="1294.5" y2="1305.4" stroke="#000" stroke-dasharray="3.4,2.7"/>
<line x1="152.14" x2="152.14" y1="1326.6" y2="1314.1" stroke="#000" stroke-dasharray="3.4,2.7"/>
<line x1="148.94" x2="155.34" y1="1294.5" y2="1294.5" stroke="#000"/>
<line x1="148.94" x2="155.34" y1="1326.6" y2="1326.6" stroke="#000"/>
<rect x="145.89" y="1305.4" width="12.5" height="8.7" fill="#0000ff" stroke="#000" stroke-width="1"/>
<line x1="145.89" x2="158.39" y1="1309.5" y2="1309.5" stroke="#000" stroke-width="2.4"/>
<circle cx="152.14" cy="1289.7" r="2.9" fill="none" stroke="#000" stroke-width="1"/>
<line x1="152.14" x2="152.14" y1="1394.35" y2="1401.65" stroke="#000"/>
<text transform="translate(155.44,1408.5) rotate(-90)" text-anchor="end" font-size="8.7">shadowMean</text>
<line x1="167.72" x2="167.72" y1="1288.1" y2="1295.7" stroke="#000" stroke-dasharray="3.4,2.7"/>
<line x1="167.72" x2="167.72" y1="1322.1" y2="1320.5" stroke="#000" stroke-dasharray="3.4,2.7"/>
<line x1="164.52" x2="170.92" y1="1288.1" y2="1288.1" stroke="#000"/>
<line x1="164.52" x2="170.92" y1="1322.1" y2="1322.1" stroke="#000"/>
<rect x="161.47" y="1295.7" width="12.5" height="24.8" fill="#ff0000" stroke="#000" stroke-width="1"/>
<line x1="161.47" x2="173.97" y1="1308.2" y2="1308.2" stroke="#000" stroke-width="2.4"/>
<line x1="167.72" x2="167.72" y1="1394.35" y2="1401.65" stroke="#000"/>
<text transform="translate(171.02,1408.5) rotate(-90)" text-anchor="end" font-size="8.7">WIDEQRS</text>
<line x1="183.29" x2="183.29" y1="1285.4" y2="1301.8" stroke="#000" stroke-dasharray="3.4,2.7"/>
<line x1="183.29" x2="183.29" y1="1329.4" y2="1316.2" stroke="#000" stroke-dasharray="3.4,2.7"/>
<line x1="180.09" x2="186.49" y1="1285.4" y2="1285.4" stroke="#000"/>
<line x1="180.09" x2="186.49" y1="1329.4" y2="1329.4" stroke="#000"/>
<rect x="177.04" y="1301.8" width="12.5" height="14.4" fill="#ff0000" stroke="#000" stroke-width="1"/>
<line x1="177.04" x2="189.54" y1="1307.4" y2="1307.4" stroke="#000" stroke-width="2.4"/>
<line x1="183.29" x2="183.29" y1="1394.35" y2="1401.65" stroke="#000"/>
<text transform="translate(186.59,1408.5) rotate(-90)" text-anchor="end" font-size="8.7">dialysis</text>
<line x1="198.87" x2="198.87" y1="1256.1" y2="1293.5" stroke="#000" stroke-dasharray="3.4,2.7"/>
<line x1="198.87" x2="198.87" y1="1332.8" y2="1319.2" stroke="#000" stroke-dasharray="3.4,2.7"/>
<line x1="195.67" x2="202.07" y1="1256.1" y2="1256.1" stroke="#000"/>
<line x1="195.67" x2="202.07" y1="1332.8" y2="1332.8" stroke="#000"/>
<rect x="192.62" y="1293.5" width="12.5" height="25.7" fill="#ff0000" stroke="#000" stroke-width="1"/>
<line x1="192.62" x2="205.12" y1="1307.4" y2="1307.4" stroke="#000" stroke-width="2.4"/>
<line x1="198.87" x2="198.87" y1="1394.35" y2="1401.65" stroke="#000"/>
<text transform="translate(202.17,1408.5) rotate(-90)" text-anchor="end" font-size="8.7">MR</text>
<line x1="214.44" x2="214.44" y1="1288.2" y2="1297.3" stroke="#000" stroke-dasharray="3.4,2.7"/>
<line x1="214.44" x2="214.44" y1="1341.5" y2="1315.5" stroke="#000" stroke-dasharray="3.4,2.7"/>
<line x1="211.24" x2="217.64" y1="1288.2" y2="1288.2" stroke="#000"/>
<line x1="211.24" x2="217.64" y1="1341.5" y2="1341.5" stroke="#000"/>
<rect x="208.19" y="1297.3" width="12.5" height="18.2" fill="#ff0000" stroke="#000" stroke-width="1"/>
<line x1="208.19" x2="220.69" y1="1306.8" y2="1306.8" stroke="#000" stroke-width="2.4"/>
<circle cx="214.44" cy="1267" r="2.9" fill="none" stroke="#000" stroke-width="1"/>
<line x1="214.44" x2="214.44" y1="1394.35" y2="1401.65" stroke="#000"/>
<text transform="translate(217.74,1408.5) rotate(-90)" text-anchor="end" font-size="8.7">ICD/CRT</text>
<line x1="230.02" x2="230.02" y1="1277.7" y2="1287.9" stroke="#000" stroke-dasharray="3.4,2.7"/>
<line x1="230.02" x2="230.02" y1="1326.4" y2="1315" stroke="#000" stroke-dasharray="3.4,2.7"/>
<line x1="226.82" x2="233.22" y1="1277.7" y2="1277.7" stroke="#000"/>
<line x1="226.82" x2="233.22" y1="1326.4" y2="1326.4" stroke="#000"/>
<rect x="223.77" y="1287.9" width="12.5" height="27.1" fill="#ff0000" stroke="#000" stroke-width="1"/>
<line x1="223.77" x2="236.27" y1="1305.5" y2="1305.5" stroke="#000" stroke-width="2.4"/>
<line x1="230.02" x2="230.02" y1="1394.35" y2="1401.65" stroke="#000"/>
<text transform="translate(233.32,1408.5) rotate(-90)" text-anchor="end" font-size="8.7">INOTROP</text>
<line x1="245.6" x2="245.6" y1="1281" y2="1289.5" stroke="#000" stroke-dasharray="3.4,2.7"/>
<line x1="245.6" x2="245.6" y1="1335.2" y2="1317.6" stroke="#000" stroke-dasharray="3.4,2.7"/>
<line x1="242.4" x2="248.8" y1="1281" y2="1281" stroke="#000"/>
<line x1="242.4" x2="248.8" y1="1335.2" y2="1335.2" stroke="#000"/>
<rect x="239.35" y="1289.5" width="12.5" height="28.1" fill="#ff0000" stroke="#000" stroke-width="1"/>
<line x1="239.35" x2="251.85" y1="1304.7" y2="1304.7" stroke="#000" stroke-width="2.4"/>
<line x1="245.6" x2="245.6" y1="1394.35" y2="1401.65" stroke="#000"/>
<text transform="translate(248.9,1408.5) rotate(-90)" text-anchor="end" font-size="8.7">AF</text>
<line x1="261.17" x2="261.17" y1="1258.8" y2="1283.7" stroke="#000" stroke-dasharray="3.4,2.7"/>
<line x1="261.17" x2="261.17" y1="1327.5" y2="1314.2" stroke="#000" stroke-dasharray="3.4,2.7"/>
<line x1="257.97" x2="264.37" y1="1258.8" y2="1258.8" stroke="#000"/>
<line x1="257.97" x2="264.37" y1="1327.5" y2="1327.5" stroke="#000"/>
<rect x="254.92" y="1283.7" width="12.5" height="30.5" fill="#ff0000" stroke="#000" stroke-width="1"/>
<line x1="254.92" x2="267.42" y1="1303.9" y2="1303.9" stroke="#000" stroke-width="2.4"/>
<line x1="261.17" x2="261.17" y1="1394.35" y2="1401.65" stroke="#000"/>
<text transform="translate(264.47,1408.5) rotate(-90)" text-anchor="end" font-size="8.7">Rvdysfunction</text>
<line x1="276.75" x2="276.75" y1="1278.1" y2="1297" stroke="#000" stroke-dasharray="3.4,2.7"/>
<line x1="276.75" x2="276.75" y1="1320" y2="1314.4" stroke="#000" stroke-dasharray="3.4,2.7"/>
<line x1="273.55" x2="279.95" y1="1278.1" y2="1278.1" stroke="#000"/>
<line x1="273.55" x2="279.95" y1="1320" y2="1320" stroke="#000"/>
<rect x="270.5" y="1297" width="12.5" height="17.4" fill="#ff0000" stroke="#000" stroke-width="1"/>
<line x1="270.5" x2="283" y1="1303.1" y2="1303.1" stroke="#000" stroke-width="2.4"/>
<line x1="276.75" x2="276.75" y1="1394.35" y2="1401.65" stroke="#000"/>
<text transform="translate(280.05,1408.5) rotate(-90)" text-anchor="end" font-size="8.7">Hypertension</text>
<line x1="292.32" x2="292.32" y1="1289" y2="1291.4" stroke="#000" stroke-dasharray="3.4,2.7"/>
<line x1="292.32" x2="292.32" y1="1329.1" y2="1310.3" stroke="#000" stroke-dasharray="3.4,2.7"/>
<line x1="289.12" x2="295.52" y1="1289" y2="1289" stroke="#000"/>
<line x1="289.12" x2="295.52" y1="1329.1" y2="1329.1" stroke="#000"/>
<rect x="286.07" y="1291.4" width="12.5" height="18.9" fill="#ff0000" stroke="#000" stroke-width="1"/>
<line x1="286.07" x2="298.57" y1="1302.3" y2="1302.3" stroke="#000" stroke-width="2.4"/>
<circle cx="292.32" cy="1262" r="2.9" fill="none" stroke="#000" stroke-width="1"/>
<line x1="292.32" x2="292.32" y1="1394.35" y2="1401.65" stroke="#000"/>
<text transform="translate(295.62,1408.5) rotate(-90)" text-anchor="end" font-size="8.7">IHD/CAD</text>
<line x1="307.9" x2="307.9" y1="1276.6" y2="1296.2" stroke="#000" stroke-dasharray="3.4,2.7"/>
<line x1="307.9" x2="307.9" y1="1317.2" y2="1309.5" stroke="#000" stroke-dasharray="3.4,2.7"/>
<line x1="304.7" x2="311.1" y1="1276.6" y2="1276.6" stroke="#000"/>
<line x1="304.7" x2="311.1" y1="1317.2" y2="1317.2" stroke="#000"/>
<rect x="301.65" y="1296.2" width="12.5" height="13.3" fill="#ff0000" stroke="#000" stroke-width="1"/>
<line x1="301.65" x2="314.15" y1="1301" y2="1301" stroke="#000" stroke-width="2.4"/>
<line x1="307.9" x2="307.9" y1="1394.35" y2="1401.65" stroke="#000"/>
<text transform="translate(311.2,1408.5) rotate(-90)" text-anchor="end" font-size="8.7">Edema</text>
<line x1="323.47" x2="323.47" y1="1258.1" y2="1286.2" stroke="#000" stroke-dasharray="3.4,2.7"/>
<line x1="323.47" x2="323.47" y1="1343.9" y2="1309.8" stroke="#000" stroke-dasharray="3.4,2.7"/>
<line x1="320.27" x2="326.67" y1="1258.1" y2="1258.1" stroke="#000"/>
<line x1="320.27" x2="326.67" y1="1343.9" y2="1343.9" stroke="#000"/>
<rect x="317.22" y="1286.2" width="12.5" height="23.6" fill="#ff0000" stroke="#000" stroke-width="1"/>
<line x1="317.22" x2="329.72" y1="1300.7" y2="1300.7" stroke="#000" stroke-width="2.4"/>
<line x1="323.47" x2="323.47" y1="1394.35" y2="1401.65" stroke="#000"/>
<text transform="translate(326.77,1408.5) rotate(-90)" text-anchor="end" font-size="8.7">ogicalDiagnosis</text>
<line x1="339.05" x2="339.05" y1="1276.9" y2="1291.5" stroke="#000" stroke-dasharray="3.4,2.7"/>
<line x1="339.05" x2="339.05" y1="1310" y2="1307.9" stroke="#000" stroke-dasharray="3.4,2.7"/>
<line x1="335.85" x2="342.25" y1="1276.9" y2="1276.9" stroke="#000"/>
<line x1="335.85" x2="342.25" y1="1310" y2="1310" stroke="#000"/>
<rect x="332.8" y="1291.5" width="12.5" height="16.4" fill="#ff0000" stroke="#000" stroke-width="1"/>
<line x1="332.8" x2="345.3" y1="1299.4" y2="1299.4" stroke="#000" stroke-width="2.4"/>
<line x1="339.05" x2="339.05" y1="1394.35" y2="1401.65" stroke="#000"/>
<text transform="translate(342.35,1408.5) rotate(-90)" text-anchor="end" font-size="8.7">AbnormalLFT</text>
<line x1="354.62" x2="354.62" y1="1260.5" y2="1287.5" stroke="#000" stroke-dasharray="3.4,2.7"/>
<line x1="354.62" x2="354.62" y1="1334.3" y2="1306.3" stroke="#000" stroke-dasharray="3.4,2.7"/>
<line x1="351.42" x2="357.82" y1="1260.5" y2="1260.5" stroke="#000"/>
<line x1="351.42" x2="357.82" y1="1334.3" y2="1334.3" stroke="#000"/>
<rect x="348.37" y="1287.5" width="12.5" height="18.8" fill="#ff0000" stroke="#000" stroke-width="1"/>
<line x1="348.37" x2="360.87" y1="1297.4" y2="1297.4" stroke="#000" stroke-width="2.4"/>
<circle cx="354.62" cy="1250.1" r="2.9" fill="none" stroke="#000" stroke-width="1"/>
<circle cx="354.62" cy="1343.9" r="2.9" fill="none" stroke="#000" stroke-width="1"/>
<line x1="354.62" x2="354.62" y1="1394.35" y2="1401.65" stroke="#000"/>
<text transform="translate(357.92,1408.5) rotate(-90)" text-anchor="end" font-size="8.7">age</text>
<line x1="370.2" x2="370.2" y1="1284.6" y2="1288.6" stroke="#000" stroke-dasharray="3.4,2.7"/>
<line x1="370.2" x2="370.2" y1="1360.6" y2="1339.2" stroke="#000" stroke-dasharray="3.4,2.7"/>
<line x1="367" x2="373.4" y1="1284.6" y2="1284.6" stroke="#000"/>
<line x1="367" x2="373.4" y1="1360.6" y2="1360.6" stroke="#000"/>
<rect x="363.95" y="1288.6" width="12.5" height="50.6" fill="#ff0000" stroke="#000" stroke-width="1"/>
<line x1="363.95" x2="376.45" y1="1297.1" y2="1297.1" stroke="#000" stroke-width="2.4"/>
<line x1="370.2" x2="370.2" y1="1394.35" y2="1401.65" stroke="#000"/>
<text transform="translate(373.5,1408.5) rotate(-90)" text-anchor="end" font-size="8.7">TR</text>
<line x1="385.78" x2="385.78" y1="1273.4" y2="1284.9" stroke="#000" stroke-dasharray="3.4,2.7"/>
<line x1="385.78" x2="385.78" y1="1340.9" y2="1313.4" stroke="#000" stroke-dasharray="3.4,2.7"/>
<line x1="382.58" x2="388.98" y1="1273.4" y2="1273.4" stroke="#000"/>
<line x1="382.58" x2="388.98" y1="1340.9" y2="1340.9" stroke="#000"/>
<rect x="379.53" y="1284.9" width="12.5" height="28.5" fill="#ff0000" stroke="#000" stroke-width="1"/>
<line x1="379.53" x2="392.03" y1="1295.5" y2="1295.5" stroke="#000" stroke-width="2.4"/>
<line x1="385.78" x2="385.78" y1="1394.35" y2="1401.65" stroke="#000"/>
<text transform="translate(389.08,1408.5) rotate(-90)" text-anchor="end" font-size="8.7">Sex</text>
<line x1="401.35" x2="401.35" y1="1271" y2="1289.4" stroke="#000" stroke-dasharray="3.4,2.7"/>
<line x1="401.35" x2="401.35" y1="1318.3" y2="1303.6" stroke="#000" stroke-dasharray="3.4,2.7"/>
<line x1="398.15" x2="404.55" y1="1271" y2="1271" stroke="#000"/>
<line x1="398.15" x2="404.55" y1="1318.3" y2="1318.3" stroke="#000"/>
<rect x="395.1" y="1289.4" width="12.5" height="14.2" fill="#ff0000" stroke="#000" stroke-width="1"/>
<line x1="395.1" x2="407.6" y1="1294.6" y2="1294.6" stroke="#000" stroke-width="2.4"/>
<line x1="401.35" x2="401.35" y1="1394.35" y2="1401.65" stroke="#000"/>
<text transform="translate(404.65,1408.5) rotate(-90)" text-anchor="end" font-size="8.7">smoking</text>
<line x1="416.93" x2="416.93" y1="1257.3" y2="1277.6" stroke="#000" stroke-dasharray="3.4,2.7"/>
<line x1="416.93" x2="416.93" y1="1319.3" y2="1295.8" stroke="#000" stroke-dasharray="3.4,2.7"/>
<line x1="413.73" x2="420.13" y1="1257.3" y2="1257.3" stroke="#000"/>
<line x1="413.73" x2="420.13" y1="1319.3" y2="1319.3" stroke="#000"/>
<rect x="410.68" y="1277.6" width="12.5" height="18.2" fill="#ff0000" stroke="#000" stroke-width="1"/>
<line x1="410.68" x2="423.18" y1="1290.3" y2="1290.3" stroke="#000" stroke-width="2.4"/>
<line x1="416.93" x2="416.93" y1="1394.35" y2="1401.65" stroke="#000"/>
<text transform="translate(420.23,1408.5) rotate(-90)" text-anchor="end" font-size="8.7">WRF</text>
<line x1="432.5" x2="432.5" y1="1277.6" y2="1281.6" stroke="#000" stroke-dasharray="3.4,2.7"/>
<line x1="432.5" x2="432.5" y1="1305.5" y2="1296.1" stroke="#000" stroke-dasharray="3.4,2.7"/>
<line x1="429.3" x2="435.7" y1="1277.6" y2="1277.6" stroke="#000"/>
<line x1="429.3" x2="435.7" y1="1305.5" y2="1305.5" stroke="#000"/>
<rect x="426.25" y="1281.6" width="12.5" height="14.5" fill="#ff0000" stroke="#000" stroke-width="1"/>
<line x1="426.25" x2="438.75" y1="1290.4" y2="1290.4" stroke="#000" stroke-width="2.4"/>
<line x1="432.5" x2="432.5" y1="1394.35" y2="1401.65" stroke="#000"/>
<text transform="translate(435.8,1408.5) rotate(-90)" text-anchor="end" font-size="8.7">EstimatedLVEF</text>
<line x1="448.08" x2="448.08" y1="1264.2" y2="1283.5" stroke="#000" stroke-dasharray="3.4,2.7"/>
<line x1="448.08" x2="448.08" y1="1330.9" y2="1306.1" stroke="#000" stroke-dasharray="3.4,2.7"/>
<line x1="444.88" x2="451.28" y1="1264.2" y2="1264.2" stroke="#000"/>
<line x1="444.88" x2="451.28" y1="1330.9" y2="1330.9" stroke="#000"/>
<rect x="441.83" y="1283.5" width="12.5" height="22.6" fill="#ff0000" stroke="#000" stroke-width="1"/>
<line x1="441.83" x2="454.33" y1="1289.2" y2="1289.2" stroke="#000" stroke-width="2.4"/>
<line x1="448.08" x2="448.08" y1="1394.35" y2="1401.65" stroke="#000"/>
<text transform="translate(451.38,1408.5) rotate(-90)" text-anchor="end" font-size="8.7">NYHAclass</text>
<line x1="463.65" x2="463.65" y1="1260.5" y2="1277.6" stroke="#000" stroke-dasharray="3.4,2.7"/>
<line x1="463.65" x2="463.65" y1="1307.6" y2="1298.4" stroke="#000" stroke-dasharray="3.4,2.7"/>
<line x1="460.45" x2="466.85" y1="1260.5" y2="1260.5" stroke="#000"/>
<line x1="460.45" x2="466.85" y1="1307.6" y2="1307.6" stroke="#000"/>
<rect x="457.4" y="1277.6" width="12.5" height="20.8" fill="#ff0000" stroke="#000" stroke-width="1"/>
<line x1="457.4" x2="469.9" y1="1287.4" y2="1287.4" stroke="#000" stroke-width="2.4"/>
<circle cx="463.65" cy="1331.4" r="2.9" fill="none" stroke="#000" stroke-width="1"/>
<line x1="463.65" x2="463.65" y1="1394.35" y2="1401.65" stroke="#000"/>
<text transform="translate(466.95,1408.5) rotate(-90)" text-anchor="end" font-size="8.7">Ascitis</text>
<line x1="479.23" x2="479.23" y1="1230.6" y2="1260.6" stroke="#000" stroke-dasharray="3.4,2.7"/>
<line x1="479.23" x2="479.23" y1="1310" y2="1283.7" stroke="#000" stroke-dasharray="3.4,2.7"/>
<line x1="476.03" x2="482.43" y1="1230.6" y2="1230.6" stroke="#000"/>
<line x1="476.03" x2="482.43" y1="1310" y2="1310" stroke="#000"/>
<rect x="472.98" y="1260.6" width="12.5" height="23.1" fill="#ffff00" stroke="#000" stroke-width="1"/>
<line x1="472.98" x2="485.48" y1="1273.1" y2="1273.1" stroke="#000" stroke-width="2.4"/>
<line x1="479.23" x2="479.23" y1="1394.35" y2="1401.65" stroke="#000"/>
<text transform="translate(482.53,1408.5) rotate(-90)" text-anchor="end" font-size="8.7">PAP</text>
<line x1="494.8" x2="494.8" y1="1237.1" y2="1261" stroke="#000" stroke-dasharray="3.4,2.7"/>
<line x1="494.8" x2="494.8" y1="1305.3" y2="1280.3" stroke="#000" stroke-dasharray="3.4,2.7"/>
<line x1="491.6" x2="498" y1="1237.1" y2="1237.1" stroke="#000"/>
<line x1="491.6" x2="498" y1="1305.3" y2="1305.3" stroke="#000"/>
<rect x="488.55" y="1261" width="12.5" height="19.3" fill="#0000ff" stroke="#000" stroke-width="1"/>
<line x1="488.55" x2="501.05" y1="1271" y2="1271" stroke="#000" stroke-width="2.4"/>
<circle cx="494.8" cy="1159.3" r="2.9" fill="none" stroke="#000" stroke-width="1"/>
<circle cx="494.8" cy="1206.2" r="2.9" fill="none" stroke="#000" stroke-width="1"/>
<circle cx="494.8" cy="1207.9" r="2.9" fill="none" stroke="#000" stroke-width="1"/>
<circle cx="494.8" cy="1209.2" r="2.9" fill="none" stroke="#000" stroke-width="1"/>
<circle cx="494.8" cy="1214.8" r="2.9" fill="none" stroke="#000" stroke-width="1"/>
<circle cx="494.8" cy="1229.9" r="2.9" fill="none" stroke="#000" stroke-width="1"/>
<line x1="494.8" x2="494.8" y1="1394.35" y2="1401.65" stroke="#000"/>
<text transform="translate(498.1,1408.5) rotate(-90)" text-anchor="end" font-size="8.7">shadowMax</text>
<line x1="510.38" x2="510.38" y1="1238.6" y2="1260.6" stroke="#000" stroke-dasharray="3.4,2.7"/>
<line x1="510.38" x2="510.38" y1="1305" y2="1279.2" stroke="#000" stroke-dasharray="3.4,2.7"/>
<line x1="507.18" x2="513.58" y1="1238.6" y2="1238.6" stroke="#000"/>
<line x1="507.18" x2="513.58" y1="1305" y2="1305" stroke="#000"/>
<rect x="504.13" y="1260.6" width="12.5" height="18.6" fill="#ffff00" stroke="#000" stroke-width="1"/>
<line x1="504.13" x2="516.63" y1="1269.8" y2="1269.8" stroke="#000" stroke-width="2.4"/>
<circle cx="510.38" cy="1227.5" r="2.9" fill="none" stroke="#000" stroke-width="1"/>
<circle cx="510.38" cy="1231.6" r="2.9" fill="none" stroke="#000" stroke-width="1"/>
<circle cx="510.38" cy="1311.5" r="2.9" fill="none" stroke="#000" stroke-width="1"/>
<circle cx="510.38" cy="1318.6" r="2.9" fill="none" stroke="#000" stroke-width="1"/>
<line x1="510.38" x2="510.38" y1="1394.35" y2="1401.65" stroke="#000"/>
<text transform="translate(513.68,1408.5) rotate(-90)" text-anchor="end" font-size="8.7">Na</text>
<line x1="525.96" x2="525.96" y1="1232.3" y2="1257.7" stroke="#000" stroke-dasharray="3.4,2.7"/>
<line x1="525.96" x2="525.96" y1="1302.1" y2="1278.8" stroke="#000" stroke-dasharray="3.4,2.7"/>
<line x1="522.76" x2="529.16" y1="1232.3" y2="1232.3" stroke="#000"/>
<line x1="522.76" x2="529.16" y1="1302.1" y2="1302.1" stroke="#000"/>
<rect x="519.71" y="1257.7" width="12.5" height="21.1" fill="#ffff00" stroke="#000" stroke-width="1"/>
<line x1="519.71" x2="532.21" y1="1269.1" y2="1269.1" stroke="#000" stroke-width="2.4"/>
<circle cx="525.96" cy="1225" r="2.9" fill="none" stroke="#000" stroke-width="1"/>
<line x1="525.96" x2="525.96" y1="1394.35" y2="1401.65" stroke="#000"/>
<text transform="translate(529.26,1408.5) rotate(-90)" text-anchor="end" font-size="8.7">IVC</text>
<line x1="541.53" x2="541.53" y1="1225.8" y2="1253" stroke="#000" stroke-dasharray="3.4,2.7"/>
<line x1="541.53" x2="541.53" y1="1303.3" y2="1275.2" stroke="#000" stroke-dasharray="3.4,2.7"/>
<line x1="538.33" x2="544.73" y1="1225.8" y2="1225.8" stroke="#000"/>
<line x1="538.33" x2="544.73" y1="1303.3" y2="1303.3" stroke="#000"/>
<rect x="535.28" y="1253" width="12.5" height="22.2" fill="#00ff00" stroke="#000" stroke-width="1"/>
<line x1="535.28" x2="547.78" y1="1260.9" y2="1260.9" stroke="#000" stroke-width="2.4"/>
<circle cx="541.53" cy="1217.6" r="2.9" fill="none" stroke="#000" stroke-width="1"/>
<circle cx="541.53" cy="1317.3" r="2.9" fill="none" stroke="#000" stroke-width="1"/>
<line x1="541.53" x2="541.53" y1="1394.35" y2="1401.65" stroke="#000"/>
<text transform="translate(544.83,1408.5) rotate(-90)" text-anchor="end" font-size="8.7">Hb</text>
<line x1="557.11" x2="557.11" y1="1220.2" y2="1251.6" stroke="#000" stroke-dasharray="3.4,2.7"/>
<line x1="557.11" x2="557.11" y1="1299.8" y2="1274" stroke="#000" stroke-dasharray="3.4,2.7"/>
<line x1="553.91" x2="560.31" y1="1220.2" y2="1220.2" stroke="#000"/>
<line x1="553.91" x2="560.31" y1="1299.8" y2="1299.8" stroke="#000"/>
<rect x="550.86" y="1251.6" width="12.5" height="22.4" fill="#ffff00" stroke="#000" stroke-width="1"/>
<line x1="550.86" x2="563.36" y1="1258.8" y2="1258.8" stroke="#000" stroke-width="2.4"/>
<circle cx="557.11" cy="1215" r="2.9" fill="none" stroke="#000" stroke-width="1"/>
<circle cx="557.11" cy="1315.2" r="2.9" fill="none" stroke="#000" stroke-width="1"/>
<line x1="557.11" x2="557.11" y1="1394.35" y2="1401.65" stroke="#000"/>
<text transform="translate(560.41,1408.5) rotate(-90)" text-anchor="end" font-size="8.7">ProBNP</text>
<line x1="572.68" x2="572.68" y1="1217.1" y2="1241.6" stroke="#000" stroke-dasharray="3.4,2.7"/>
<line x1="572.68" x2="572.68" y1="1295.9" y2="1264.7" stroke="#000" stroke-dasharray="3.4,2.7"/>
<line x1="569.48" x2="575.88" y1="1217.1" y2="1217.1" stroke="#000"/>
<line x1="569.48" x2="575.88" y1="1295.9" y2="1295.9" stroke="#000"/>
<rect x="566.43" y="1241.6" width="12.5" height="23.1" fill="#00ff00" stroke="#000" stroke-width="1"/>
<line x1="566.43" x2="578.93" y1="1251.8" y2="1251.8" stroke="#000" stroke-width="2.4"/>
<circle cx="572.68" cy="1195.2" r="2.9" fill="none" stroke="#000" stroke-width="1"/>
<line x1="572.68" x2="572.68" y1="1394.35" y2="1401.65" stroke="#000"/>
<text transform="translate(575.98,1408.5) rotate(-90)" text-anchor="end" font-size="8.7">Uricacid</text>
<line x1="588.26" x2="588.26" y1="1190.3" y2="1222.8" stroke="#000" stroke-dasharray="3.4,2.7"/>
<line x1="588.26" x2="588.26" y1="1279.5" y2="1245.5" stroke="#000" stroke-dasharray="3.4,2.7"/>
<line x1="585.06" x2="591.46" y1="1190.3" y2="1190.3" stroke="#000"/>
<line x1="585.06" x2="591.46" y1="1279.5" y2="1279.5" stroke="#000"/>
<rect x="582.01" y="1222.8" width="12.5" height="22.7" fill="#00ff00" stroke="#000" stroke-width="1"/>
<line x1="582.01" x2="594.51" y1="1233.9" y2="1233.9" stroke="#000" stroke-width="2.4"/>
<circle cx="588.26" cy="1283.2" r="2.9" fill="none" stroke="#000" stroke-width="1"/>
<line x1="588.26" x2="588.26" y1="1394.35" y2="1401.65" stroke="#000"/>
<text transform="translate(591.56,1408.5) rotate(-90)" text-anchor="end" font-size="8.7">BUN</text>
<line x1="603.83" x2="603.83" y1="1184.9" y2="1217.5" stroke="#000" stroke-dasharray="3.4,2.7"/>
<line x1="603.83" x2="603.83" y1="1276" y2="1241.4" stroke="#000" stroke-dasharray="3.4,2.7"/>
<line x1="600.63" x2="607.03" y1="1184.9" y2="1184.9" stroke="#000"/>
<line x1="600.63" x2="607.03" y1="1276" y2="1276" stroke="#000"/>
<rect x="597.58" y="1217.5" width="12.5" height="23.9" fill="#00ff00" stroke="#000" stroke-width="1"/>
<line x1="597.58" x2="610.08" y1="1231.6" y2="1231.6" stroke="#000" stroke-width="2.4"/>
<circle cx="603.83" cy="1175.2" r="2.9" fill="none" stroke="#000" stroke-width="1"/>
<line x1="603.83" x2="603.83" y1="1394.35" y2="1401.65" stroke="#000"/>
<text transform="translate(607.13,1408.5) rotate(-90)" text-anchor="end" font-size="8.7">SBP</text>
<line x1="619.41" x2="619.41" y1="1158.8" y2="1194.5" stroke="#000" stroke-dasharray="3.4,2.7"/>
<line x1="619.41" x2="619.41" y1="1251.4" y2="1221.2" stroke="#000" stroke-dasharray="3.4,2.7"/>
<line x1="616.21" x2="622.61" y1="1158.8" y2="1158.8" stroke="#000"/>
<line x1="616.21" x2="622.61" y1="1251.4" y2="1251.4" stroke="#000"/>
<rect x="613.16" y="1194.5" width="12.5" height="26.7" fill="#00ff00" stroke="#000" stroke-width="1"/>
<line x1="613.16" x2="625.66" y1="1209" y2="1209" stroke="#000" stroke-width="2.4"/>
<circle cx="619.41" cy="1268.5" r="2.9" fill="none" stroke="#000" stroke-width="1"/>
<line x1="619.41" x2="619.41" y1="1394.35" y2="1401.65" stroke="#000"/>
<text transform="translate(622.71,1408.5) rotate(-90)" text-anchor="end" font-size="8.7">DischargeCr</text>
<line x1="634.98" x2="634.98" y1="1170" y2="1186.6" stroke="#000" stroke-dasharray="3.4,2.7"/>
<line x1="634.98" x2="634.98" y1="1242.5" y2="1209.2" stroke="#000" stroke-dasharray="3.4,2.7"/>
<line x1="631.78" x2="638.18" y1="1170" y2="1170" stroke="#000"/>
<line x1="631.78" x2="638.18" y1="1242.5" y2="1242.5" stroke="#000"/>
<rect x="628.73" y="1186.6" width="12.5" height="22.6" fill="#00ff00" stroke="#000" stroke-width="1"/>
<line x1="628.73" x2="641.23" y1="1199.1" y2="1199.1" stroke="#000" stroke-width="2.4"/>
<circle cx="634.98" cy="1151.8" r="2.9" fill="none" stroke="#000" stroke-width="1"/>
<circle cx="634.98" cy="1258.6" r="2.9" fill="none" stroke="#000" stroke-width="1"/>
<line x1="634.98" x2="634.98" y1="1394.35" y2="1401.65" stroke="#000"/>
<text transform="translate(638.28,1408.5) rotate(-90)" text-anchor="end" font-size="8.7">CRF</text>
<line x1="650.56" x2="650.56" y1="1156.8" y2="1183.4" stroke="#000" stroke-dasharray="3.4,2.7"/>
<line x1="650.56" x2="650.56" y1="1237.5" y2="1206.7" stroke="#000" stroke-dasharray="3.4,2.7"/>
<line x1="647.36" x2="653.76" y1="1156.8" y2="1156.8" stroke="#000"/>
<line x1="647.36" x2="653.76" y1="1237.5" y2="1237.5" stroke="#000"/>
<rect x="644.31" y="1183.4" width="12.5" height="23.3" fill="#00ff00" stroke="#000" stroke-width="1"/>
<line x1="644.31" x2="656.81" y1="1196.2" y2="1196.2" stroke="#000" stroke-width="2.4"/>
<circle cx="650.56" cy="1242.5" r="2.9" fill="none" stroke="#000" stroke-width="1"/>
<circle cx="650.56" cy="1251.7" r="2.9" fill="none" stroke="#000" stroke-width="1"/>
<circle cx="650.56" cy="1253" r="2.9" fill="none" stroke="#000" stroke-width="1"/>
<line x1="650.56" x2="650.56" y1="1394.35" y2="1401.65" stroke="#000"/>
<text transform="translate(653.86,1408.5) rotate(-90)" text-anchor="end" font-size="8.7">BASECr</text>
<rect x="59" y="1142.6" width="622.4" height="251.75" fill="none" stroke="#000" stroke-width="1"/>
</g>
</svg></body></html>
